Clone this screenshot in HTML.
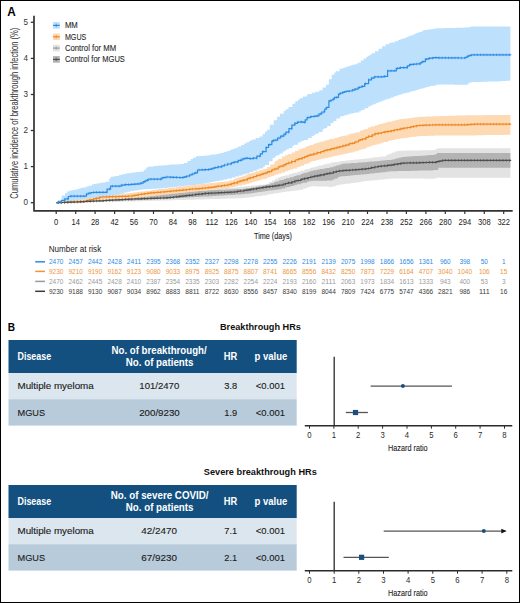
<!DOCTYPE html>
<html><head><meta charset="utf-8"><style>
html,body{margin:0;padding:0;background:#fff;}
svg{display:block;font-family:"Liberation Sans", sans-serif;}
</style></head><body>
<svg width="520" height="603" viewBox="0 0 520 603">
<rect x="0.5" y="0.5" width="519" height="602" fill="#fff" stroke="#000" stroke-width="1"/>
<text x="7.3" y="15.8" font-size="12" fill="#000" text-anchor="start" font-weight="bold" textLength="8.5" lengthAdjust="spacingAndGlyphs" >A</text>
<polygon points="56.2,202.7 58.0,202.7 58.0,199.9 61.7,199.9 61.7,195.4 65.1,195.4 65.1,192.9 67.2,192.9 67.2,191.3 69.9,191.3 69.9,190.6 72.6,190.6 72.6,189.9 75.7,189.9 75.7,189.2 79.2,189.2 79.2,188.3 80.9,188.3 80.9,187.9 82.5,187.9 82.5,187.5 86.1,187.5 86.1,186.6 88.6,186.6 88.6,185.7 92.0,185.7 92.0,184.5 93.6,184.5 93.6,184.1 96.2,184.1 96.2,183.5 99.5,183.5 99.5,182.9 101.5,182.9 101.5,182.5 105.4,182.5 105.4,181.7 109.2,181.7 109.2,178.5 110.7,178.5 110.7,176.8 112.3,176.8 112.3,176.5 115.2,176.5 115.2,175.9 119.0,175.9 119.0,175.1 121.5,175.1 121.5,174.5 123.5,174.5 123.5,174.1 126.0,174.1 126.0,173.5 127.6,173.5 127.6,173.2 129.7,173.2 129.7,172.9 132.3,172.9 132.3,172.6 135.0,172.6 135.0,172.3 137.1,172.3 137.1,172.0 139.2,172.0 139.2,171.8 141.2,171.8 141.2,171.6 143.9,171.6 143.9,169.7 146.1,169.7 146.1,167.8 147.6,167.8 147.6,166.8 151.2,166.8 151.2,166.4 154.1,166.4 154.1,166.1 157.2,166.1 157.2,165.8 159.2,165.8 159.2,165.5 163.2,165.5 163.2,165.2 166.8,165.2 166.8,164.9 168.6,164.9 168.6,164.8 171.0,164.8 171.0,164.6 174.3,164.6 174.3,164.4 177.5,164.4 177.5,164.2 181.4,164.2 181.4,163.9 183.9,163.9 183.9,163.0 187.5,163.0 187.5,160.9 190.7,160.9 190.7,159.1 193.0,159.1 193.0,157.8 195.9,157.8 195.9,156.2 199.6,156.2 199.6,156.0 203.2,156.0 203.2,155.8 206.0,155.8 206.0,155.5 209.0,155.5 209.0,155.1 210.6,155.1 210.6,154.8 212.7,154.8 212.7,154.5 216.2,154.5 216.2,154.0 218.7,154.0 218.7,153.6 220.6,153.6 220.6,153.1 223.5,153.1 223.5,152.1 226.8,152.1 226.8,150.9 230.0,150.9 230.0,149.8 232.4,149.8 232.4,148.9 235.0,148.9 235.0,148.0 237.8,148.0 237.8,146.6 241.2,146.6 241.2,144.9 244.0,144.9 244.0,143.5 246.5,143.5 246.5,142.2 249.2,142.2 249.2,141.0 250.8,141.0 250.8,140.3 252.4,140.3 252.4,139.6 255.7,139.6 255.7,138.1 259.6,138.1 259.6,136.4 262.6,136.4 262.6,134.1 265.1,134.1 265.1,131.6 267.0,131.6 267.0,129.7 269.8,129.7 269.8,124.8 273.7,124.8 273.7,120.3 277.1,120.3 277.1,116.8 280.0,116.8 280.0,113.8 283.6,113.8 283.6,110.9 285.7,110.9 285.7,109.3 288.5,109.3 288.5,107.0 292.4,107.0 292.4,103.8 295.3,103.8 295.3,101.3 298.0,101.3 298.0,99.4 300.2,99.4 300.2,98.1 303.0,98.1 303.0,96.4 306.9,96.4 306.9,94.4 308.4,94.4 308.4,93.9 311.9,93.9 311.9,92.8 315.4,92.8 315.4,91.7 319.2,91.7 319.2,90.3 322.5,90.3 322.5,87.6 326.0,87.6 326.0,84.7 328.8,84.7 328.8,79.3 331.7,79.3 331.7,74.7 334.3,74.7 334.3,72.6 335.9,72.6 335.9,71.3 339.6,71.3 339.6,68.8 342.5,68.8 342.5,67.9 344.5,67.9 344.5,67.2 347.3,67.2 347.3,66.3 350.0,66.3 350.0,65.5 352.4,65.5 352.4,64.8 354.8,64.8 354.8,64.2 357.6,64.2 357.6,62.7 360.7,62.7 360.7,60.6 363.7,60.6 363.7,58.5 366.3,58.5 366.3,56.8 367.9,56.8 367.9,55.8 370.0,55.8 370.0,54.4 371.9,54.4 371.9,53.2 374.9,53.2 374.9,51.2 378.5,51.2 378.5,48.7 382.0,48.7 382.0,46.3 385.5,46.3 385.5,44.3 389.1,44.3 389.1,43.1 391.2,43.1 391.2,42.4 394.8,42.4 394.8,41.2 398.0,41.2 398.0,40.1 399.7,40.1 399.7,39.5 401.3,39.5 401.3,38.9 402.8,38.9 402.8,38.3 406.2,38.3 406.2,37.1 408.3,37.1 408.3,36.3 410.1,36.3 410.1,35.6 413.1,35.6 413.1,34.3 415.5,34.3 415.5,33.3 417.2,33.3 417.2,32.7 419.1,32.7 419.1,31.9 421.9,31.9 421.9,30.7 423.8,30.7 423.8,30.0 426.0,30.0 426.0,29.7 429.3,29.7 429.3,29.2 431.9,29.2 431.9,28.9 434.2,28.9 434.2,28.5 436.9,28.5 436.9,28.3 438.5,28.3 438.5,28.2 440.9,28.2 440.9,28.2 443.5,28.2 443.5,28.1 445.4,28.1 445.4,28.1 447.2,28.1 447.2,28.0 451.0,28.0 451.0,27.9 453.7,27.9 453.7,27.9 455.8,27.9 455.8,27.8 458.8,27.8 458.8,27.8 462.3,27.8 462.3,27.7 463.9,27.7 463.9,27.6 465.4,27.6 465.4,27.6 467.3,27.6 467.3,27.2 470.6,27.2 470.6,26.5 472.5,26.5 472.5,26.5 475.7,26.5 475.7,26.5 478.9,26.5 478.9,26.5 481.8,26.5 481.8,26.5 483.9,26.5 483.9,26.5 487.8,26.5 487.8,26.5 491.3,26.5 491.3,26.5 494.1,26.5 494.1,26.5 496.1,26.5 496.1,26.5 499.3,26.5 499.3,26.5 501.7,26.5 501.7,26.5 504.7,26.5 504.7,26.5 507.0,26.5 507.0,26.5 510.1,26.5 510.1,26.5 510.4,26.5 510.4,26.5 510.4,80.6 510.4,80.6 509.6,80.6 509.6,80.8 506.1,80.8 506.1,81.0 502.2,81.0 502.2,81.2 498.9,81.2 498.9,81.4 495.8,81.4 495.8,81.4 493.7,81.4 493.7,81.5 490.5,81.5 490.5,81.6 488.8,81.6 488.8,81.7 485.2,81.7 485.2,81.8 481.8,81.8 481.8,81.9 479.9,81.9 479.9,82.0 476.9,82.0 476.9,82.0 474.7,82.0 474.7,82.1 472.1,82.1 472.1,82.5 469.5,82.5 469.5,83.5 467.9,83.5 467.9,84.7 464.1,84.7 464.1,84.7 460.1,84.7 460.1,84.7 457.5,84.7 457.5,84.7 454.0,84.7 454.0,84.6 450.2,84.6 450.2,84.6 446.9,84.6 446.9,84.6 444.7,84.6 444.7,84.6 441.5,84.6 441.5,84.6 438.9,84.6 438.9,84.7 435.6,84.7 435.6,85.7 431.6,85.7 431.6,86.1 430.0,86.1 430.0,86.5 428.4,86.5 428.4,87.1 426.1,87.1 426.1,87.8 423.5,87.8 423.5,88.5 420.9,88.5 420.9,89.1 418.8,89.1 418.8,90.1 415.5,90.1 415.5,91.0 412.3,91.0 412.3,91.6 410.0,91.6 410.0,92.4 407.1,92.4 407.1,92.9 405.3,92.9 405.3,93.6 402.4,93.6 402.4,94.5 399.3,94.5 399.3,95.2 396.9,95.2 396.9,96.3 393.7,96.3 393.7,97.5 390.5,97.5 390.5,98.7 387.3,98.7 387.3,99.6 384.7,99.6 384.7,100.6 382.3,100.6 382.3,101.5 379.9,101.5 379.9,102.3 378.1,102.3 378.1,103.0 376.2,103.0 376.2,103.7 374.6,103.7 374.6,104.5 372.5,104.5 372.5,105.2 370.9,105.2 370.9,106.2 368.4,106.2 368.4,108.3 364.6,108.3 364.6,110.1 361.4,110.1 361.4,111.3 359.2,111.3 359.2,112.5 355.4,112.5 355.4,113.0 353.0,113.0 353.0,113.6 350.2,113.6 350.2,114.3 347.3,114.3 347.3,115.3 344.2,115.3 344.2,115.9 342.0,115.9 342.0,116.5 339.9,116.5 339.9,118.6 336.4,118.6 336.4,121.0 333.5,121.0 333.5,123.1 330.8,123.1 330.8,125.9 327.2,125.9 327.2,128.2 324.1,128.2 324.1,129.3 322.6,129.3 322.6,132.0 318.8,132.0 318.8,133.8 315.7,133.8 315.7,134.7 314.0,134.7 314.0,136.0 311.7,136.0 311.7,138.0 307.9,138.0 307.9,139.9 304.0,139.9 304.0,140.7 302.2,140.7 302.2,141.6 300.2,141.6 300.2,142.6 298.0,142.6 298.0,144.7 294.2,144.7 294.2,145.7 292.5,145.7 292.5,147.9 288.9,147.9 288.9,149.2 286.7,149.2 286.7,150.2 285.1,150.2 285.1,151.6 282.7,151.6 282.7,153.6 279.5,153.6 279.5,155.3 276.6,155.3 276.6,156.3 274.9,156.3 274.9,157.9 272.6,157.9 272.6,161.3 268.9,161.3 268.9,165.0 265.0,165.0 265.0,166.7 263.1,166.7 263.1,168.4 259.4,168.4 259.4,169.4 256.8,169.4 256.8,170.8 253.1,170.8 253.1,172.1 249.7,172.1 249.7,173.4 246.2,173.4 246.2,174.1 244.3,174.1 244.3,174.6 242.4,174.6 242.4,175.6 239.0,175.6 239.0,176.5 235.4,176.5 235.4,177.5 232.0,177.5 232.0,178.4 228.7,178.4 228.7,178.8 226.9,178.8 226.9,179.6 223.3,179.6 223.3,180.3 219.7,180.3 219.7,181.1 215.8,181.1 215.8,181.6 213.4,181.6 213.4,181.9 211.8,181.9 211.8,182.3 210.1,182.3 210.1,182.6 208.6,182.6 208.6,183.2 205.4,183.2 205.4,183.7 202.2,183.7 202.2,184.2 198.5,184.2 198.5,184.5 196.2,184.5 196.2,184.9 192.5,184.9 192.5,185.2 189.8,185.2 189.8,185.5 187.1,185.5 187.1,185.8 184.0,185.8 184.0,186.1 181.6,186.1 181.6,186.4 178.3,186.4 178.3,186.8 175.0,186.8 175.0,187.0 173.2,187.0 173.2,187.2 171.5,187.2 171.5,187.4 169.5,187.4 169.5,187.5 168.0,187.5 168.0,187.7 166.1,187.7 166.1,188.0 163.2,188.0 163.2,188.2 161.6,188.2 161.6,188.5 158.4,188.5 158.4,188.6 156.8,188.6 156.8,188.7 154.5,188.7 154.5,188.8 151.6,188.8 151.6,188.9 149.0,188.9 149.0,189.0 147.4,189.0 147.4,189.2 144.3,189.2 144.3,189.4 141.8,189.4 141.8,189.8 139.2,189.8 139.2,190.2 136.8,190.2 136.8,190.6 134.3,190.6 134.3,191.1 130.6,191.1 130.6,191.7 127.4,191.7 127.4,192.6 124.2,192.6 124.2,193.7 120.6,193.7 120.6,194.2 118.9,194.2 118.9,194.9 116.6,194.9 116.6,195.7 114.0,195.7 114.0,196.3 112.0,196.3 112.0,197.0 109.5,197.0 109.5,197.6 106.4,197.6 106.4,197.9 104.1,197.9 104.1,198.2 101.4,198.2 101.4,198.6 99.0,198.6 99.0,199.0 95.6,199.0 95.6,199.2 93.9,199.2 93.9,199.5 91.9,199.5 91.9,199.7 90.2,199.7 90.2,200.2 86.3,200.2 86.3,200.5 84.2,200.5 84.2,200.7 81.0,200.7 81.0,200.9 78.8,200.9 78.8,201.1 76.7,201.1 76.7,201.2 74.7,201.2 74.7,201.5 71.5,201.5 71.5,201.7 68.9,201.7 68.9,202.0 65.1,202.0 65.1,202.3 61.1,202.3 61.1,202.5 59.2,202.5 59.2,202.7 56.2,202.7" fill="#bde0fd"/>
<polygon points="56.2,202.7 60.1,202.7 60.1,202.2 64.0,202.2 64.0,201.8 65.6,201.8 65.6,201.6 67.3,201.6 67.3,201.4 70.9,201.4 70.9,200.9 74.2,200.9 74.2,200.5 77.4,200.5 77.4,200.1 79.7,200.1 79.7,199.9 82.7,199.9 82.7,199.5 85.7,199.5 85.7,199.1 88.7,199.1 88.7,198.8 90.6,198.8 90.6,198.5 93.1,198.5 93.1,198.2 95.6,198.2 95.6,197.9 98.9,197.9 98.9,197.5 102.9,197.5 102.9,197.0 106.8,197.0 106.8,196.6 109.7,196.6 109.7,196.2 112.3,196.2 112.3,195.9 114.4,195.9 114.4,195.6 116.0,195.6 116.0,195.5 117.6,195.5 117.6,195.3 120.3,195.3 120.3,194.9 122.6,194.9 122.6,194.7 125.0,194.7 125.0,194.4 128.7,194.4 128.7,194.0 131.5,194.0 131.5,193.8 134.5,193.8 134.5,193.7 136.5,193.7 136.5,193.6 138.1,193.6 138.1,193.5 140.4,193.5 140.4,193.3 142.3,193.3 142.3,193.2 145.0,193.2 145.0,193.1 149.0,193.1 149.0,192.9 152.2,192.9 152.2,192.7 154.2,192.7 154.2,192.6 157.9,192.6 157.9,192.4 161.4,192.4 161.4,192.2 164.7,192.2 164.7,192.1 168.5,192.1 168.5,191.9 171.9,191.9 171.9,191.7 175.4,191.7 175.4,191.5 177.8,191.5 177.8,191.4 181.7,191.4 181.7,191.2 185.6,191.2 185.6,191.0 187.5,191.0 187.5,190.9 190.9,190.9 190.9,190.7 194.2,190.7 194.2,190.5 196.8,190.5 196.8,190.4 199.7,190.4 199.7,190.2 202.4,190.2 202.4,190.1 206.2,190.1 206.2,189.8 209.0,189.8 209.0,189.5 212.5,189.5 212.5,189.2 214.9,189.2 214.9,189.0 218.6,189.0 218.6,188.7 222.4,188.7 222.4,188.3 225.0,188.3 225.0,188.1 228.0,188.1 228.0,187.8 231.8,187.8 231.8,187.5 235.1,187.5 235.1,187.2 237.8,187.2 237.8,186.9 239.8,186.9 239.8,186.7 242.1,186.7 242.1,186.5 245.4,186.5 245.4,186.2 247.3,186.2 247.3,186.0 251.1,186.0 251.1,185.6 253.3,185.6 253.3,185.4 257.0,185.4 257.0,185.0 259.3,185.0 259.3,184.8 263.2,184.8 263.2,184.4 266.5,184.4 266.5,183.7 269.2,183.7 269.2,182.1 272.0,182.1 272.0,180.5 275.1,180.5 275.1,178.8 278.1,178.8 278.1,177.2 280.4,177.2 280.4,176.6 282.4,176.6 282.4,176.0 285.2,176.0 285.2,175.2 289.0,175.2 289.0,174.1 292.1,174.1 292.1,173.2 293.8,173.2 293.8,172.8 297.3,172.8 297.3,171.7 300.6,171.7 300.6,170.7 304.4,170.7 304.4,169.6 306.4,169.6 306.4,169.0 309.8,169.0 309.8,168.0 311.4,168.0 311.4,167.5 314.5,167.5 314.5,166.7 316.7,166.7 316.7,166.2 318.8,166.2 318.8,165.6 322.5,165.6 322.5,164.7 324.2,164.7 324.2,164.2 327.0,164.2 327.0,163.5 330.7,163.5 330.7,162.6 332.8,162.6 332.8,162.3 334.8,162.3 334.8,162.0 338.5,162.0 338.5,161.4 341.1,161.4 341.1,161.1 344.4,161.1 344.4,160.7 345.9,160.7 345.9,160.6 348.4,160.6 348.4,160.3 350.3,160.3 350.3,160.1 353.5,160.1 353.5,159.8 355.2,159.8 355.2,159.6 359.1,159.6 359.1,159.3 360.6,159.3 360.6,159.1 363.9,159.1 363.9,158.8 365.5,158.8 365.5,158.6 367.6,158.6 367.6,158.3 371.2,158.3 371.2,157.8 373.1,157.8 373.1,157.6 375.0,157.6 375.0,157.3 378.3,157.3 378.3,156.9 380.7,156.9 380.7,156.6 382.3,156.6 382.3,156.4 386.3,156.4 386.3,155.1 388.2,155.1 388.2,154.2 389.8,154.2 389.8,153.5 392.1,153.5 392.1,152.5 395.2,152.5 395.2,151.2 398.5,151.2 398.5,150.8 400.3,150.8 400.3,150.7 402.6,150.7 402.6,150.7 404.2,150.7 404.2,150.6 406.8,150.6 406.8,150.6 410.3,150.6 410.3,150.5 413.6,150.5 413.6,150.5 417.4,150.5 417.4,150.4 420.8,150.4 420.8,150.3 424.4,150.3 424.4,150.3 427.7,150.3 427.7,150.2 430.4,150.2 430.4,150.2 432.4,150.2 432.4,150.1 435.6,150.1 435.6,148.7 437.9,148.7 437.9,148.3 439.6,148.3 439.6,148.3 442.2,148.3 442.2,148.3 445.9,148.3 445.9,148.3 447.7,148.3 447.7,148.3 450.7,148.3 450.7,148.3 453.2,148.3 453.2,148.3 456.0,148.3 456.0,148.3 457.8,148.3 457.8,148.3 461.7,148.3 461.7,148.3 463.9,148.3 463.9,148.3 466.9,148.3 466.9,148.3 469.4,148.3 469.4,148.3 471.0,148.3 471.0,148.3 473.9,148.3 473.9,148.3 475.7,148.3 475.7,148.3 477.4,148.3 477.4,148.3 479.0,148.3 479.0,148.3 480.9,148.3 480.9,148.3 482.6,148.3 482.6,148.3 485.7,148.3 485.7,148.3 488.5,148.3 488.5,148.3 492.4,148.3 492.4,148.3 496.3,148.3 496.3,148.3 500.2,148.3 500.2,148.3 502.3,148.3 502.3,148.3 504.9,148.3 504.9,148.3 507.1,148.3 507.1,148.3 510.0,148.3 510.0,148.3 510.4,148.3 510.4,148.3 510.4,177.8 510.4,177.8 508.7,177.8 508.7,177.8 504.8,177.8 504.8,177.8 501.5,177.8 501.5,177.8 497.8,177.8 497.8,177.8 494.1,177.8 494.1,177.8 491.9,177.8 491.9,177.8 489.2,177.8 489.2,177.8 486.2,177.8 486.2,177.8 483.3,177.8 483.3,177.8 480.5,177.8 480.5,177.8 479.0,177.8 479.0,177.8 475.1,177.8 475.1,177.8 471.7,177.8 471.7,177.8 468.3,177.8 468.3,177.8 466.6,177.8 466.6,177.8 462.7,177.8 462.7,177.8 460.0,177.8 460.0,177.8 456.2,177.8 456.2,177.8 453.3,177.8 453.3,177.8 451.1,177.8 451.1,177.8 448.2,177.8 448.2,177.8 446.6,177.8 446.6,177.8 444.8,177.8 444.8,177.8 442.7,177.8 442.7,177.8 440.0,177.8 440.0,177.8 436.3,177.8 436.3,178.5 434.4,178.5 434.4,178.7 432.1,178.7 432.1,178.7 428.2,178.7 428.2,178.7 424.5,178.7 424.5,178.6 421.8,178.6 421.8,178.6 418.8,178.6 418.8,178.6 416.1,178.6 416.1,178.6 414.3,178.6 414.3,178.6 410.4,178.6 410.4,178.6 408.4,178.6 408.4,178.6 406.8,178.6 406.8,178.6 403.1,178.6 403.1,178.5 399.8,178.5 399.8,178.5 396.4,178.5 396.4,178.5 394.2,178.5 394.2,178.5 390.6,178.5 390.6,178.7 387.9,178.7 387.9,179.0 384.8,179.0 384.8,179.4 380.9,179.4 380.9,179.8 377.6,179.8 377.6,180.2 373.8,180.2 373.8,180.5 370.6,180.5 370.6,180.8 367.5,180.8 367.5,181.0 365.4,181.0 365.4,181.3 363.2,181.3 363.2,181.5 361.7,181.5 361.7,181.9 359.0,181.9 359.0,182.4 355.2,182.4 355.2,182.9 351.3,182.9 351.3,183.4 347.7,183.4 347.7,183.8 345.2,183.8 345.2,184.2 341.8,184.2 341.8,184.5 339.8,184.5 339.8,184.9 338.1,184.9 338.1,185.4 336.0,185.4 336.0,186.2 332.9,186.2 332.9,186.9 329.3,186.9 329.3,186.8 326.7,186.8 326.7,186.6 323.1,186.6 323.1,186.5 319.6,186.5 319.6,186.4 316.9,186.4 316.9,186.3 314.9,186.3 314.9,186.2 311.6,186.2 311.6,186.7 309.3,186.7 309.3,187.3 307.3,187.3 307.3,187.9 305.2,187.9 305.2,188.7 302.7,188.7 302.7,189.7 299.4,189.7 299.4,190.2 297.1,190.2 297.1,190.5 294.5,190.5 294.5,190.8 292.7,190.8 292.7,191.0 290.9,191.0 290.9,191.3 289.0,191.3 289.0,191.6 286.5,191.6 286.5,191.8 284.8,191.8 284.8,192.1 282.7,192.1 282.7,192.5 280.0,192.5 280.0,192.8 278.2,192.8 278.2,193.3 275.6,193.3 275.6,193.6 273.6,193.6 273.6,194.1 270.4,194.1 270.4,194.6 267.8,194.6 267.8,195.0 265.8,195.0 265.8,195.5 261.9,195.5 261.9,195.9 258.7,195.9 258.7,196.2 256.6,196.2 256.6,196.5 254.1,196.5 254.1,197.0 250.4,197.0 250.4,197.5 246.8,197.5 246.8,197.8 245.1,197.8 245.1,198.0 243.2,198.0 243.2,198.2 239.3,198.2 239.3,198.3 235.5,198.3 235.5,198.4 233.0,198.4 233.0,198.5 230.1,198.5 230.1,198.6 226.2,198.6 226.2,198.7 223.4,198.7 223.4,198.8 220.3,198.8 220.3,198.9 216.5,198.9 216.5,199.0 213.5,199.0 213.5,199.1 210.2,199.1 210.2,199.2 207.7,199.2 207.7,199.3 204.5,199.3 204.5,199.4 200.8,199.4 200.8,199.5 197.7,199.5 197.7,199.6 195.1,199.6 195.1,199.7 191.3,199.7 191.3,199.8 188.6,199.8 188.6,199.8 185.5,199.8 185.5,199.9 181.9,199.9 181.9,200.1 178.2,200.1 178.2,200.1 175.0,200.1 175.0,200.2 172.4,200.2 172.4,200.3 169.5,200.3 169.5,200.4 167.0,200.4 167.0,200.5 163.9,200.5 163.9,200.6 160.9,200.6 160.9,200.6 158.9,200.6 158.9,200.7 157.0,200.7 157.0,200.8 153.2,200.8 153.2,200.8 150.7,200.8 150.7,200.9 148.1,200.9 148.1,201.0 144.8,201.0 144.8,201.1 142.0,201.1 142.0,201.2 138.8,201.2 138.8,201.3 136.4,201.3 136.4,201.3 134.7,201.3 134.7,201.4 132.6,201.4 132.6,201.5 129.4,201.5 129.4,201.5 126.3,201.5 126.3,201.6 123.3,201.6 123.3,201.6 121.4,201.6 121.4,201.7 118.6,201.7 118.6,201.7 116.5,201.7 116.5,201.7 113.8,201.7 113.8,201.8 111.2,201.8 111.2,201.8 108.2,201.8 108.2,201.9 104.9,201.9 104.9,201.9 101.4,201.9 101.4,202.0 99.6,202.0 99.6,202.0 97.5,202.0 97.5,202.1 95.1,202.1 95.1,202.1 91.7,202.1 91.7,202.2 88.0,202.2 88.0,202.2 85.2,202.2 85.2,202.3 82.2,202.3 82.2,202.3 79.4,202.3 79.4,202.3 77.8,202.3 77.8,202.4 74.8,202.4 74.8,202.4 71.8,202.4 71.8,202.5 69.3,202.5 69.3,202.5 66.3,202.5 66.3,202.6 63.0,202.6 63.0,202.6 61.1,202.6 61.1,202.7 58.1,202.7 58.1,202.7 56.2,202.7" fill="#e3e3e3"/>
<polygon points="56.2,202.7 58.3,202.7 58.3,202.5 61.2,202.5 61.2,202.3 63.6,202.3 63.6,202.1 66.6,202.1 66.6,201.9 69.7,201.9 69.7,201.6 71.3,201.6 71.3,201.5 72.9,201.5 72.9,201.4 76.4,201.4 76.4,201.1 78.6,201.1 78.6,200.9 80.7,200.9 80.7,200.8 84.7,200.8 84.7,200.4 87.3,200.4 87.3,200.2 90.9,200.2 90.9,199.9 93.6,199.9 93.6,199.7 96.7,199.7 96.7,199.5 98.6,199.5 98.6,199.3 101.7,199.3 101.7,199.1 105.4,199.1 105.4,198.8 108.2,198.8 108.2,198.6 111.5,198.6 111.5,198.3 114.7,198.3 114.7,198.1 116.4,198.1 116.4,197.9 119.8,197.9 119.8,197.7 122.7,197.7 122.7,197.4 125.0,197.4 125.0,197.2 126.6,197.2 126.6,197.1 130.2,197.1 130.2,196.8 132.9,196.8 132.9,196.6 136.2,196.6 136.2,196.3 139.9,196.3 139.9,196.0 143.2,196.0 143.2,195.7 147.0,195.7 147.0,195.4 149.5,195.4 149.5,195.1 153.0,195.1 153.0,194.8 155.6,194.8 155.6,194.6 159.4,194.6 159.4,194.3 163.1,194.3 163.1,193.9 164.9,193.9 164.9,193.8 166.7,193.8 166.7,193.6 168.8,193.6 168.8,193.5 172.7,193.5 172.7,193.1 175.3,193.1 175.3,192.9 178.3,192.9 178.3,192.6 180.6,192.6 180.6,192.4 183.3,192.4 183.3,192.2 185.8,192.2 185.8,192.0 188.2,192.0 188.2,191.8 191.1,191.8 191.1,191.5 194.1,191.5 194.1,191.3 197.9,191.3 197.9,190.9 201.1,190.9 201.1,190.7 204.9,190.7 204.9,190.4 208.5,190.4 208.5,190.2 212.5,190.2 212.5,190.0 215.7,190.0 215.7,189.9 217.6,189.9 217.6,189.8 221.3,189.8 221.3,189.7 225.2,189.7 225.2,189.5 228.9,189.5 228.9,189.4 231.8,189.4 231.8,189.2 235.1,189.2 235.1,189.1 237.2,189.1 237.2,189.0 240.7,189.0 240.7,188.9 243.7,188.9 243.7,188.6 245.9,188.6 245.9,188.2 247.5,188.2 247.5,188.0 251.2,188.0 251.2,187.4 255.2,187.4 255.2,186.7 256.9,186.7 256.9,186.4 260.4,186.4 260.4,185.8 262.9,185.8 262.9,185.4 264.8,185.4 264.8,185.1 267.0,185.1 267.0,184.5 270.4,184.5 270.4,183.3 274.1,183.3 274.1,182.0 275.7,182.0 275.7,181.5 278.8,181.5 278.8,180.4 280.4,180.4 280.4,179.9 283.7,179.9 283.7,178.9 286.0,178.9 286.0,178.2 289.7,178.2 289.7,177.2 293.7,177.2 293.7,176.0 296.4,176.0 296.4,175.2 300.4,175.2 300.4,174.0 302.7,174.0 302.7,173.3 304.4,173.3 304.4,172.8 307.4,172.8 307.4,171.9 309.0,171.9 309.0,171.4 311.0,171.4 311.0,170.8 313.5,170.8 313.5,170.3 316.5,170.3 316.5,169.8 318.4,169.8 318.4,169.4 320.0,169.4 320.0,169.1 323.7,169.1 323.7,168.5 325.9,168.5 325.9,168.0 329.8,168.0 329.8,167.3 333.6,167.3 333.6,166.2 336.0,166.2 336.0,165.5 338.7,165.5 338.7,164.7 341.5,164.7 341.5,163.8 344.6,163.8 344.6,163.6 347.6,163.6 347.6,163.4 350.5,163.4 350.5,163.1 353.5,163.1 353.5,162.9 357.4,162.9 357.4,162.6 360.2,162.6 360.2,162.4 362.7,162.4 362.7,162.2 366.0,162.2 366.0,162.0 368.1,162.0 368.1,161.8 370.4,161.8 370.4,161.6 374.3,161.6 374.3,161.2 377.1,161.2 377.1,161.0 380.0,161.0 380.0,160.7 381.5,160.7 381.5,160.6 384.1,160.6 384.1,160.3 387.0,160.3 387.0,160.1 388.6,160.1 388.6,159.9 391.6,159.9 391.6,159.4 394.7,159.4 394.7,158.7 396.3,158.7 396.3,158.3 399.4,158.3 399.4,157.6 402.1,157.6 402.1,156.9 405.3,156.9 405.3,156.7 407.6,156.7 407.6,156.5 410.9,156.5 410.9,156.3 414.3,156.3 414.3,156.1 415.8,156.1 415.8,156.0 417.5,156.0 417.5,155.9 420.7,155.9 420.7,155.7 424.6,155.7 424.6,155.4 426.7,155.4 426.7,155.3 429.3,155.3 429.3,155.1 432.3,155.1 432.3,154.9 434.6,154.9 434.6,154.2 437.0,154.2 437.0,152.9 439.3,152.9 439.3,152.9 441.7,152.9 441.7,152.9 444.7,152.9 444.7,152.9 447.0,152.9 447.0,152.9 449.4,152.9 449.4,152.9 452.8,152.9 452.8,152.9 454.4,152.9 454.4,152.9 457.3,152.9 457.3,152.9 460.7,152.9 460.7,152.9 462.9,152.9 462.9,152.9 465.0,152.9 465.0,152.9 468.5,152.9 468.5,152.9 470.6,152.9 470.6,152.9 472.6,152.9 472.6,152.9 475.2,152.9 475.2,152.9 478.4,152.9 478.4,152.9 480.2,152.9 480.2,152.9 482.5,152.9 482.5,152.9 484.8,152.9 484.8,152.9 488.4,152.9 488.4,152.9 491.0,152.9 491.0,152.9 494.6,152.9 494.6,152.9 496.5,152.9 496.5,152.9 498.9,152.9 498.9,152.9 502.0,152.9 502.0,152.9 505.7,152.9 505.7,152.9 508.4,152.9 508.4,152.9 510.4,152.9 510.4,152.9 510.4,167.7 510.4,167.7 509.8,167.7 509.8,167.7 505.9,167.7 505.9,167.7 502.6,167.7 502.6,167.7 499.8,167.7 499.8,167.7 496.6,167.7 496.6,167.7 493.5,167.7 493.5,167.7 491.5,167.7 491.5,167.7 488.8,167.7 488.8,167.7 485.9,167.7 485.9,167.7 482.5,167.7 482.5,167.7 479.0,167.7 479.0,167.7 475.6,167.7 475.6,167.7 473.0,167.7 473.0,167.7 470.9,167.7 470.9,167.7 468.7,167.7 468.7,167.7 465.2,167.7 465.2,167.7 461.8,167.7 461.8,167.7 458.4,167.7 458.4,167.7 454.7,167.7 454.7,167.7 451.9,167.7 451.9,167.7 448.1,167.7 448.1,167.7 446.4,167.7 446.4,167.7 444.6,167.7 444.6,167.7 441.8,167.7 441.8,167.7 438.3,167.7 438.3,169.9 434.3,169.9 434.3,170.3 432.8,170.3 432.8,170.4 430.6,170.4 430.6,170.5 427.0,170.5 427.0,170.5 423.8,170.5 423.8,170.6 421.1,170.6 421.1,170.6 419.0,170.6 419.0,170.7 416.7,170.7 416.7,170.7 415.2,170.7 415.2,170.8 412.4,170.8 412.4,170.8 410.9,170.8 410.9,170.9 407.1,170.9 407.1,171.0 403.4,171.0 403.4,171.1 400.5,171.1 400.5,171.1 397.3,171.1 397.3,171.2 393.6,171.2 393.6,171.3 390.2,171.3 390.2,171.5 388.3,171.5 388.3,171.8 385.8,171.8 385.8,172.2 382.3,172.2 382.3,172.4 380.0,172.4 380.0,172.8 377.0,172.8 377.0,173.1 374.5,173.1 374.5,173.4 371.7,173.4 371.7,173.6 369.5,173.6 369.5,173.9 367.2,173.9 367.2,174.3 363.9,174.3 363.9,174.6 360.6,174.6 360.6,174.8 358.4,174.8 358.4,175.1 354.7,175.1 354.7,175.3 352.5,175.3 352.5,175.5 349.9,175.5 349.9,175.7 348.0,175.7 348.0,176.0 344.9,176.0 344.9,176.3 341.2,176.3 341.2,176.5 339.6,176.5 339.6,177.0 338.0,177.0 338.0,178.4 334.9,178.4 334.9,179.5 332.6,179.5 332.6,180.5 330.2,180.5 330.2,180.6 327.0,180.6 327.0,180.7 323.1,180.7 323.1,180.7 319.5,180.7 319.5,180.7 316.4,180.7 316.4,180.8 314.8,180.8 314.8,180.8 311.3,180.8 311.3,181.3 308.9,181.3 308.9,181.7 306.9,181.7 306.9,182.7 303.1,182.7 303.1,183.2 300.9,183.2 300.9,184.2 296.9,184.2 296.9,185.0 294.1,185.0 294.1,186.1 290.4,186.1 290.4,187.0 287.2,187.0 287.2,187.6 284.9,187.6 284.9,188.5 281.7,188.5 281.7,189.2 278.8,189.2 278.8,189.5 276.5,189.5 276.5,189.9 273.8,189.9 273.8,190.2 271.4,190.2 271.4,190.6 268.3,190.6 268.3,191.0 265.3,191.0 265.3,191.4 262.8,191.4 262.8,191.7 260.8,191.7 260.8,192.1 257.7,192.1 257.7,192.5 254.8,192.5 254.8,192.9 251.9,192.9 251.9,193.4 248.3,193.4 248.3,193.8 245.1,193.8 245.1,194.1 243.5,194.1 243.5,194.3 240.9,194.3 240.9,194.4 239.3,194.4 239.3,194.6 235.9,194.6 235.9,194.8 233.3,194.8 233.3,195.0 229.7,195.0 229.7,195.1 227.2,195.1 227.2,195.3 224.2,195.3 224.2,195.5 221.4,195.5 221.4,195.6 219.1,195.6 219.1,195.8 215.9,195.8 215.9,196.0 212.4,196.0 212.4,196.2 209.5,196.2 209.5,196.4 205.6,196.4 205.6,196.6 201.6,196.6 201.6,196.8 198.9,196.8 198.9,196.9 197.1,196.9 197.1,197.0 193.9,197.0 193.9,197.2 190.4,197.2 190.4,197.3 188.6,197.3 188.6,197.5 184.8,197.5 184.8,197.6 183.1,197.6 183.1,197.7 180.9,197.7 180.9,197.8 178.4,197.8 178.4,197.9 176.5,197.9 176.5,198.1 173.8,198.1 173.8,198.2 171.6,198.2 171.6,198.4 168.3,198.4 168.3,198.5 165.5,198.5 165.5,198.7 161.7,198.7 161.7,198.9 158.0,198.9 158.0,199.1 154.1,199.1 154.1,199.2 152.0,199.2 152.0,199.4 149.8,199.4 149.8,199.5 147.7,199.5 147.7,199.6 145.0,199.6 145.0,199.8 142.0,199.8 142.0,200.0 138.1,200.0 138.1,200.1 135.1,200.1 135.1,200.3 132.7,200.3 132.7,200.4 130.6,200.4 130.6,200.5 127.0,200.5 127.0,200.6 124.1,200.6 124.1,200.7 120.6,200.7 120.6,200.8 118.1,200.8 118.1,200.9 114.8,200.9 114.8,201.0 111.5,201.0 111.5,201.1 108.9,201.1 108.9,201.1 107.0,201.1 107.0,201.2 104.2,201.2 104.2,201.3 102.3,201.3 102.3,201.3 100.6,201.3 100.6,201.4 98.5,201.4 98.5,201.5 97.0,201.5 97.0,201.6 93.4,201.6 93.4,201.6 91.3,201.6 91.3,201.7 89.6,201.7 89.6,201.7 87.8,201.7 87.8,201.8 84.1,201.8 84.1,202.0 80.4,202.0 80.4,202.0 78.0,202.0 78.0,202.1 76.2,202.1 76.2,202.2 73.2,202.2 73.2,202.2 71.5,202.2 71.5,202.3 69.4,202.3 69.4,202.4 66.1,202.4 66.1,202.5 62.8,202.5 62.8,202.6 60.1,202.6 60.1,202.7 56.2,202.7" fill="#b3b3b3"/>
<polygon points="56.2,202.7 58.3,202.7 58.3,202.4 60.0,202.4 60.0,202.2 62.5,202.2 62.5,201.9 64.4,201.9 64.4,201.6 66.1,201.6 66.1,201.4 68.6,201.4 68.6,201.0 72.4,201.0 72.4,200.5 75.9,200.5 75.9,200.1 79.3,200.1 79.3,199.6 81.4,199.6 81.4,199.3 84.2,199.3 84.2,199.0 86.4,199.0 86.4,198.7 88.3,198.7 88.3,198.4 90.1,198.4 90.1,198.2 92.1,198.2 92.1,197.9 95.9,197.9 95.9,197.4 99.5,197.4 99.5,196.9 103.0,196.9 103.0,196.4 106.5,196.4 106.5,196.0 108.5,196.0 108.5,195.7 110.8,195.7 110.8,195.4 113.9,195.4 113.9,195.0 117.2,195.0 117.2,194.5 120.8,194.5 120.8,194.1 124.5,194.1 124.5,193.6 126.2,193.6 126.2,193.3 129.3,193.3 129.3,192.9 132.4,192.9 132.4,192.5 135.2,192.5 135.2,192.2 137.1,192.2 137.1,191.9 139.8,191.9 139.8,191.6 141.6,191.6 141.6,191.4 145.4,191.4 145.4,190.9 149.1,190.9 149.1,190.4 151.9,190.4 151.9,190.1 154.2,190.1 154.2,189.8 157.9,189.8 157.9,189.3 160.9,189.3 160.9,188.9 164.6,188.9 164.6,188.5 168.2,188.5 168.2,188.0 171.0,188.0 171.0,187.7 173.5,187.7 173.5,187.4 176.5,187.4 176.5,187.0 179.1,187.0 179.1,186.7 181.0,186.7 181.0,186.4 183.3,186.4 183.3,186.2 186.8,186.2 186.8,185.7 188.4,185.7 188.4,185.5 190.0,185.5 190.0,185.3 193.1,185.3 193.1,184.9 195.3,184.9 195.3,184.7 198.1,184.7 198.1,184.3 200.8,184.3 200.8,184.0 203.1,184.0 203.1,183.8 207.1,183.8 207.1,183.4 209.1,183.4 209.1,183.1 211.7,183.1 211.7,182.9 213.7,182.9 213.7,182.7 216.7,182.7 216.7,182.3 218.9,182.3 218.9,182.1 221.3,182.1 221.3,181.8 224.7,181.8 224.7,181.5 227.0,181.5 227.0,181.2 229.9,181.2 229.9,180.2 233.7,180.2 233.7,178.9 235.4,178.9 235.4,178.3 237.1,178.3 237.1,177.7 239.1,177.7 239.1,177.0 242.5,177.0 242.5,175.8 245.6,175.8 245.6,174.7 247.7,174.7 247.7,174.0 250.0,174.0 250.0,173.2 251.9,173.2 251.9,172.6 254.6,172.6 254.6,171.7 256.2,171.7 256.2,171.2 259.4,171.2 259.4,170.1 263.2,170.1 263.2,168.9 267.1,168.9 267.1,167.0 270.4,167.0 270.4,164.5 274.3,164.5 274.3,161.7 275.9,161.7 275.9,160.5 278.1,160.5 278.1,158.9 282.0,158.9 282.0,156.6 285.4,156.6 285.4,155.1 288.0,155.1 288.0,154.0 291.8,154.0 291.8,152.4 294.9,152.4 294.9,151.0 298.4,151.0 298.4,149.6 300.6,149.6 300.6,148.7 302.6,148.7 302.6,147.9 305.2,147.9 305.2,146.8 307.1,146.8 307.1,146.1 309.5,146.1 309.5,145.1 313.4,145.1 313.4,143.8 315.8,143.8 315.8,143.1 317.3,143.1 317.3,142.7 318.9,142.7 318.9,142.2 320.8,142.2 320.8,141.6 324.3,141.6 324.3,140.6 326.7,140.6 326.7,139.9 328.9,139.9 328.9,139.3 330.7,139.3 330.7,138.9 334.6,138.9 334.6,137.9 337.2,137.9 337.2,137.3 339.2,137.3 339.2,136.8 340.8,136.8 340.8,136.3 342.5,136.3 342.5,135.9 344.4,135.9 344.4,135.5 347.6,135.5 347.6,134.6 349.5,134.6 349.5,134.1 351.1,134.1 351.1,133.6 353.8,133.6 353.8,132.9 355.9,132.9 355.9,132.3 359.9,132.3 359.9,130.8 361.7,130.8 361.7,130.0 364.5,130.0 364.5,128.9 368.0,128.9 368.0,127.6 370.5,127.6 370.5,126.6 374.5,126.6 374.5,125.4 377.2,125.4 377.2,124.7 379.3,124.7 379.3,124.1 381.8,124.1 381.8,123.4 383.4,123.4 383.4,123.0 385.9,123.0 385.9,122.3 388.1,122.3 388.1,121.7 391.8,121.7 391.8,120.7 395.4,120.7 395.4,119.9 398.1,119.9 398.1,119.5 399.7,119.5 399.7,119.3 401.8,119.3 401.8,119.0 403.9,119.0 403.9,118.7 405.9,118.7 405.9,118.5 408.0,118.5 408.0,118.2 411.7,118.2 411.7,117.7 413.6,117.7 413.6,117.4 415.2,117.4 415.2,117.2 419.0,117.2 419.0,116.8 421.9,116.8 421.9,116.7 425.9,116.7 425.9,116.6 428.4,116.6 428.4,116.5 432.2,116.5 432.2,116.3 435.3,116.3 435.3,116.2 438.8,116.2 438.8,116.1 442.1,116.1 442.1,116.0 444.9,116.0 444.9,115.9 446.6,115.9 446.6,115.9 448.6,115.9 448.6,115.8 452.3,115.8 452.3,115.7 456.1,115.7 456.1,115.6 459.9,115.6 459.9,115.4 462.2,115.4 462.2,115.4 465.3,115.4 465.3,115.3 468.8,115.3 468.8,115.3 472.0,115.3 472.0,115.2 475.5,115.2 475.5,115.2 478.3,115.2 478.3,115.2 481.4,115.2 481.4,115.2 484.7,115.2 484.7,115.1 486.8,115.1 486.8,115.1 490.6,115.1 490.6,115.1 494.5,115.1 494.5,115.0 496.2,115.0 496.2,115.0 500.1,115.0 500.1,115.0 504.1,115.0 504.1,115.0 507.2,115.0 507.2,114.9 508.8,114.9 508.8,114.9 510.4,114.9 510.4,114.9 510.4,134.7 510.4,134.7 508.6,134.7 508.6,134.8 506.6,134.8 506.6,134.8 504.5,134.8 504.5,134.9 500.8,134.9 500.8,134.9 498.5,134.9 498.5,135.0 494.7,135.0 494.7,135.0 492.8,135.0 492.8,135.1 489.9,135.1 489.9,135.1 488.0,135.1 488.0,135.1 485.1,135.1 485.1,135.2 483.0,135.2 483.0,135.2 479.9,135.2 479.9,135.3 476.0,135.3 476.0,135.4 472.8,135.4 472.8,135.4 468.9,135.4 468.9,135.5 466.3,135.5 466.3,135.5 463.7,135.5 463.7,135.5 461.5,135.5 461.5,135.5 459.2,135.5 459.2,135.5 457.4,135.5 457.4,135.5 455.7,135.5 455.7,135.5 452.2,135.5 452.2,135.5 448.7,135.5 448.7,135.5 446.2,135.5 446.2,135.5 443.5,135.5 443.5,135.5 440.0,135.5 440.0,135.5 438.2,135.5 438.2,135.5 435.6,135.5 435.6,135.6 434.1,135.6 434.1,135.7 430.9,135.7 430.9,135.8 427.7,135.8 427.7,135.9 425.4,135.9 425.4,136.0 421.9,136.0 421.9,136.1 420.0,136.1 420.0,136.2 418.1,136.2 418.1,136.3 416.5,136.3 416.5,136.8 412.8,136.8 412.8,137.1 410.4,137.1 410.4,137.3 408.8,137.3 408.8,137.7 406.3,137.7 406.3,138.0 403.4,138.0 403.4,138.2 401.8,138.2 401.8,138.6 399.2,138.6 399.2,139.1 395.4,139.1 395.4,139.9 392.0,139.9 392.0,140.5 389.6,140.5 389.6,141.0 387.7,141.0 387.7,142.0 384.0,142.0 384.0,142.6 381.8,142.6 381.8,143.4 378.8,143.4 378.8,144.4 375.3,144.4 375.3,145.1 372.9,145.1 372.9,145.8 370.8,145.8 370.8,146.7 368.3,146.7 368.3,147.6 365.6,147.6 365.6,148.9 361.7,148.9 361.7,149.8 358.9,149.8 358.9,150.7 356.4,150.7 356.4,151.5 353.5,151.5 353.5,152.4 349.8,152.4 349.8,152.9 348.1,152.9 348.1,153.6 345.4,153.6 345.4,154.1 343.4,154.1 343.4,154.5 341.3,154.5 341.3,155.1 338.5,155.1 338.5,155.5 336.4,155.5 336.4,156.1 333.6,156.1 333.6,156.5 332.0,156.5 332.0,156.9 330.0,156.9 330.0,157.3 328.3,157.3 328.3,158.1 324.8,158.1 324.8,158.6 322.6,158.6 322.6,159.1 320.6,159.1 320.6,159.6 318.5,159.6 318.5,160.0 316.8,160.0 316.8,160.5 314.9,160.5 314.9,161.1 312.6,161.1 312.6,161.6 310.7,161.6 310.7,162.4 308.6,162.4 308.6,163.7 305.4,163.7 305.4,164.3 303.9,164.3 303.9,165.7 300.3,165.7 300.3,167.0 297.2,167.0 297.2,168.4 293.3,168.4 293.3,169.5 290.4,169.5 290.4,170.3 288.1,170.3 288.1,171.3 285.1,171.3 285.1,172.6 281.5,172.6 281.5,173.6 278.6,173.6 278.6,174.6 275.6,174.6 275.6,175.2 273.9,175.2 273.9,176.1 271.2,176.1 271.2,177.1 268.5,177.1 268.5,177.7 266.5,177.7 266.5,178.9 262.7,178.9 262.7,179.4 261.2,179.4 261.2,180.2 258.2,180.2 258.2,181.2 254.9,181.2 254.9,182.0 252.1,182.0 252.1,182.9 249.3,182.9 249.3,183.8 245.7,183.8 245.7,184.7 242.0,184.7 242.0,185.5 238.3,185.5 238.3,186.3 235.1,186.3 235.1,187.1 231.5,187.1 231.5,187.6 229.2,187.6 229.2,188.2 225.9,188.2 225.9,188.5 223.1,188.5 223.1,188.8 220.2,188.8 220.2,189.1 217.1,189.1 217.1,189.4 213.8,189.4 213.8,189.7 210.8,189.7 210.8,189.9 209.1,189.9 209.1,190.1 207.0,190.1 207.0,190.5 203.4,190.5 203.4,190.6 201.9,190.6 201.9,190.8 200.0,190.8 200.0,191.0 198.3,191.0 198.3,191.3 195.3,191.3 195.3,191.5 193.4,191.5 193.4,191.7 191.5,191.7 191.5,192.0 189.1,192.0 189.1,192.2 187.5,192.2 187.5,192.5 184.7,192.5 184.7,192.7 182.7,192.7 182.7,193.1 178.7,193.1 178.7,193.5 174.9,193.5 174.9,193.8 171.8,193.8 171.8,194.1 169.0,194.1 169.0,194.5 165.5,194.5 165.5,194.8 162.3,194.8 162.3,195.0 160.7,195.0 160.7,195.4 157.1,195.4 157.1,195.6 155.1,195.6 155.1,196.0 151.1,196.0 151.1,196.3 148.7,196.3 148.7,196.7 144.9,196.7 144.9,197.0 142.4,197.0 142.4,197.2 140.3,197.2 140.3,197.6 136.7,197.6 136.7,197.9 133.2,197.9 133.2,198.3 130.2,198.3 130.2,198.5 128.4,198.5 128.4,198.6 125.5,198.6 125.5,198.8 123.6,198.8 123.6,198.9 121.4,198.9 121.4,199.1 118.6,199.1 118.6,199.2 115.9,199.2 115.9,199.4 113.4,199.4 113.4,199.5 110.3,199.5 110.3,199.7 107.3,199.7 107.3,199.8 105.0,199.8 105.0,200.0 102.5,200.0 102.5,200.2 99.5,200.2 99.5,200.4 95.9,200.4 95.9,200.6 92.8,200.6 92.8,200.7 90.4,200.7 90.4,200.9 87.3,200.9 87.3,201.0 85.5,201.0 85.5,201.2 81.8,201.2 81.8,201.3 79.8,201.3 79.8,201.4 78.3,201.4 78.3,201.6 74.8,201.6 74.8,201.8 71.5,201.8 71.5,201.9 69.2,201.9 69.2,202.1 67.1,202.1 67.1,202.3 63.8,202.3 63.8,202.5 60.1,202.5 60.1,202.7 56.2,202.7" fill="#fdd9b4"/>
<polyline points="56.2,202.7 58.9,202.7 58.9,202.6 62.0,202.6 62.0,202.4 65.2,202.4 65.2,202.3 67.1,202.3 67.1,202.2 68.6,202.2 68.6,202.1 71.0,202.1 71.0,202.0 73.2,202.0 73.2,201.9 76.7,201.9 76.7,201.8 80.0,201.8 80.0,201.6 83.0,201.6 83.0,201.5 85.9,201.5 85.9,200.7 89.0,200.7 89.0,199.9 90.9,199.9 90.9,199.5 93.5,199.5 93.5,198.8 95.4,198.8 95.4,198.4 99.1,198.4 99.1,197.4 100.8,197.4 100.8,197.0 104.3,197.0 104.3,196.8 106.0,196.8 106.0,196.8 109.2,196.8 109.2,196.7 111.6,196.7 111.6,196.6 114.1,196.6 114.1,196.6 117.7,196.6 117.7,196.5 119.2,196.5 119.2,196.4 120.9,196.4 120.9,196.4 124.7,196.4 124.7,196.3 127.5,196.3 127.5,196.2 129.2,196.2 129.2,196.0 133.2,196.0 133.2,195.4 137.0,195.4 137.0,194.8 138.8,194.8 138.8,194.5 141.4,194.5 141.4,194.1 143.2,194.1 143.2,193.8 145.5,193.8 145.5,193.5 148.5,193.5 148.5,193.1 150.4,193.1 150.4,192.9 153.7,192.9 153.7,192.6 155.3,192.6 155.3,192.5 157.2,192.5 157.2,192.3 160.8,192.3 160.8,192.0 163.3,192.0 163.3,191.8 165.8,191.8 165.8,191.5 168.8,191.5 168.8,191.3 171.5,191.3 171.5,191.0 174.0,191.0 174.0,190.8 175.5,190.8 175.5,190.7 178.9,190.7 178.9,190.3 182.8,190.3 182.8,189.9 186.7,189.9 186.7,189.5 189.9,189.5 189.9,189.2 192.3,189.2 192.3,189.0 194.7,189.0 194.7,188.8 197.9,188.8 197.9,188.6 201.1,188.6 201.1,188.3 202.9,188.3 202.9,188.2 205.0,188.2 205.0,188.0 207.4,188.0 207.4,187.6 210.1,187.6 210.1,187.3 213.7,187.3 213.7,186.8 216.4,186.8 216.4,186.4 218.0,186.4 218.0,186.2 221.5,186.2 221.5,185.7 224.1,185.7 224.1,185.4 226.9,185.4 226.9,185.0 229.0,185.0 229.0,184.4 231.5,184.4 231.5,183.6 234.0,183.6 234.0,182.9 237.4,182.9 237.4,181.8 239.2,181.8 239.2,181.2 242.1,181.2 242.1,180.4 244.0,180.4 244.0,179.8 247.3,179.8 247.3,178.7 248.9,178.7 248.9,178.2 251.0,178.2 251.0,177.5 253.4,177.5 253.4,176.7 256.5,176.7 256.5,175.7 258.1,175.7 258.1,175.1 260.8,175.1 260.8,174.3 262.8,174.3 262.8,173.6 265.0,173.6 265.0,172.9 267.7,172.9 267.7,171.7 271.6,171.7 271.6,170.0 274.3,170.0 274.3,168.8 278.2,168.8 278.2,167.0 280.1,167.0 280.1,166.2 283.9,166.2 283.9,164.6 286.3,164.6 286.3,163.7 288.3,163.7 288.3,162.9 291.7,162.9 291.7,161.5 295.4,161.5 295.4,160.0 297.0,160.0 297.0,159.5 299.1,159.5 299.1,158.7 302.6,158.7 302.6,157.5 304.9,157.5 304.9,156.7 307.0,156.7 307.0,155.9 308.5,155.9 308.5,155.4 310.1,155.4 310.1,154.8 313.2,154.8 313.2,153.9 317.1,153.9 317.1,152.7 321.1,152.7 321.1,151.5 323.9,151.5 323.9,150.7 325.5,150.7 325.5,150.2 327.8,150.2 327.8,149.6 331.2,149.6 331.2,148.7 334.8,148.7 334.8,147.8 337.9,147.8 337.9,147.1 340.0,147.1 340.0,146.6 342.8,146.6 342.8,145.8 345.5,145.8 345.5,145.1 348.6,145.1 348.6,144.0 350.7,144.0 350.7,143.3 354.6,143.3 354.6,142.0 358.3,142.0 358.3,140.5 360.2,140.5 360.2,139.7 362.5,139.7 362.5,138.8 366.1,138.8 366.1,137.3 368.3,137.3 368.3,136.4 372.2,136.4 372.2,134.8 375.0,134.8 375.0,133.7 378.2,133.7 378.2,133.1 381.5,133.1 381.5,132.5 383.5,132.5 383.5,132.1 385.7,132.1 385.7,131.7 387.9,131.7 387.9,131.3 391.1,131.3 391.1,130.6 394.3,130.6 394.3,130.0 396.1,130.0 396.1,129.7 399.9,129.7 399.9,128.9 402.4,128.9 402.4,128.4 404.5,128.4 404.5,128.0 407.1,128.0 407.1,127.5 411.1,127.5 411.1,126.7 414.0,126.7 414.0,126.1 417.0,126.1 417.0,125.5 420.8,125.5 420.8,125.3 424.7,125.3 424.7,125.2 428.1,125.2 428.1,125.1 430.7,125.1 430.7,125.0 433.6,125.0 433.6,124.9 437.4,124.9 437.4,124.8 440.9,124.8 440.9,124.8 443.8,124.8 443.8,124.8 446.2,124.8 446.2,124.8 448.6,124.8 448.6,124.8 451.9,124.8 451.9,124.8 454.9,124.8 454.9,124.8 456.4,124.8 456.4,124.8 459.7,124.8 459.7,124.8 463.4,124.8 463.4,124.8 466.9,124.8 466.9,124.6 470.7,124.6 470.7,124.3 474.4,124.3 474.4,124.2 477.3,124.2 477.3,124.2 480.8,124.2 480.8,124.2 483.2,124.2 483.2,124.2 484.9,124.2 484.9,124.2 487.3,124.2 487.3,124.2 489.6,124.2 489.6,124.2 493.4,124.2 493.4,124.2 496.7,124.2 496.7,124.2 499.5,124.2 499.5,124.2 502.6,124.2 502.6,124.2 504.4,124.2 504.4,124.2 507.2,124.2 507.2,124.2 510.5,124.2 510.5,124.2 511.2,124.2 511.2,124.2" fill="none" stroke="#ee8a25" stroke-width="1.2" stroke-linejoin="miter"/>
<path d="M58.2,201.4v2.6 M61.4,201.3v2.6 M64.6,201.1v2.6 M67.8,200.9v2.6 M71.0,200.8v2.6 M74.2,200.6v2.6 M77.4,200.5v2.6 M80.6,200.3v2.6 M83.8,200.2v2.6 M87.0,199.4v2.6 M90.2,198.6v2.6 M93.4,198.2v2.6 M96.6,197.1v2.6 M99.8,196.1v2.6 M103.0,195.7v2.6 M106.2,195.5v2.6 M109.4,195.4v2.6 M112.6,195.3v2.6 M115.8,195.3v2.6 M119.0,195.2v2.6 M122.2,195.1v2.6 M125.4,195.0v2.6 M128.6,194.9v2.6 M131.8,194.7v2.6 M135.0,194.1v2.6 M138.2,193.5v2.6 M141.4,192.8v2.6 M144.6,192.5v2.6 M147.8,192.2v2.6 M151.0,191.6v2.6 M154.2,191.3v2.6 M157.4,191.0v2.6 M160.6,191.0v2.6 M163.8,190.5v2.6 M167.0,190.2v2.6 M170.2,190.0v2.6 M173.4,189.7v2.6 M176.6,189.4v2.6 M179.8,189.0v2.6 M183.0,188.6v2.6 M186.2,188.6v2.6 M189.4,188.2v2.6 M192.6,187.7v2.6 M195.8,187.5v2.6 M199.0,187.3v2.6 M202.2,187.0v2.6 M205.4,186.7v2.6 M208.6,186.3v2.6 M211.8,186.0v2.6 M215.0,185.5v2.6 M218.2,184.9v2.6 M221.4,184.9v2.6 M224.6,184.1v2.6 M227.8,183.7v2.6 M231.0,183.1v2.6 M234.2,181.6v2.6 M237.4,181.6v2.6 M240.6,179.9v2.6 M243.8,179.1v2.6 M247.0,178.5v2.6 M250.2,176.9v2.6 M253.4,176.2v2.6 M256.6,174.4v2.6 M259.8,173.8v2.6 M263.0,172.3v2.6 M266.2,171.6v2.6 M269.4,170.4v2.6 M272.6,168.7v2.6 M275.8,167.5v2.6 M279.0,165.7v2.6 M282.2,164.9v2.6 M285.4,163.3v2.6 M288.6,161.6v2.6 M291.8,160.2v2.6 M295.0,160.2v2.6 M298.2,158.2v2.6 M301.4,157.4v2.6 M304.6,156.2v2.6 M307.8,154.6v2.6 M311.0,153.5v2.6 M314.2,152.6v2.6 M317.4,151.4v2.6 M320.6,151.4v2.6 M323.8,150.2v2.6 M327.0,148.9v2.6 M330.2,148.3v2.6 M333.4,147.4v2.6 M336.6,146.5v2.6 M339.8,145.8v2.6 M343.0,144.5v2.6 M346.2,143.8v2.6 M349.4,142.7v2.6 M352.6,142.0v2.6 M355.8,140.7v2.6 M359.0,139.2v2.6 M362.2,138.4v2.6 M365.4,137.5v2.6 M368.6,135.1v2.6 M371.8,135.1v2.6 M375.0,132.4v2.6 M378.2,132.4v2.6 M381.4,131.8v2.6 M384.6,130.8v2.6 M387.8,130.4v2.6 M391.0,130.0v2.6 M394.2,129.3v2.6 M397.4,128.4v2.6 M400.6,127.6v2.6 M403.8,127.1v2.6 M407.0,126.7v2.6 M410.2,126.2v2.6 M413.4,125.4v2.6 M416.6,124.8v2.6 M419.8,124.2v2.6 M423.0,124.0v2.6 M426.2,123.9v2.6 M429.4,123.8v2.6 M432.6,123.7v2.6 M435.8,123.6v2.6 M439.0,123.5v2.6 M442.2,123.5v2.6 M445.4,123.5v2.6 M448.6,123.5v2.6 M451.8,123.5v2.6 M455.0,123.5v2.6 M458.2,123.5v2.6 M461.4,123.5v2.6 M464.6,123.5v2.6 M467.8,123.3v2.6 M471.0,123.0v2.6 M474.2,123.0v2.6 M477.4,122.9v2.6 M480.6,122.9v2.6 M483.8,122.9v2.6 M487.0,122.9v2.6 M490.2,122.9v2.6 M493.4,122.9v2.6 M496.6,122.9v2.6 M499.8,122.9v2.6 M503.0,122.9v2.6 M506.2,122.9v2.6 M509.4,122.9v2.6" stroke="#ee8a25" stroke-width="0.7" fill="none"/>
<polyline points="56.2,202.7 58.8,202.7 58.8,202.6 61.7,202.6 61.7,202.5 65.5,202.5 65.5,202.3 68.2,202.3 68.2,202.2 71.0,202.2 71.0,202.1 73.9,202.1 73.9,202.0 75.9,202.0 75.9,202.0 78.7,202.0 78.7,201.8 81.8,201.8 81.8,201.7 85.2,201.7 85.2,201.5 87.0,201.5 87.0,201.4 89.2,201.4 89.2,201.3 91.0,201.3 91.0,201.2 94.5,201.2 94.5,201.0 97.7,201.0 97.7,200.8 99.3,200.8 99.3,200.8 103.3,200.8 103.3,200.5 107.2,200.5 107.2,200.3 110.3,200.3 110.3,200.2 113.4,200.2 113.4,200.0 115.3,200.0 115.3,199.9 116.8,199.9 116.8,199.8 119.6,199.8 119.6,199.7 121.3,199.7 121.3,199.6 123.2,199.6 123.2,199.5 125.3,199.5 125.3,199.3 126.9,199.3 126.9,199.3 129.6,199.3 129.6,199.1 132.2,199.1 132.2,199.0 135.8,199.0 135.8,198.9 138.6,198.9 138.6,198.8 141.7,198.8 141.7,198.7 144.4,198.7 144.4,198.6 147.6,198.6 147.6,198.5 150.2,198.5 150.2,198.4 152.4,198.4 152.4,198.3 156.4,198.3 156.4,198.1 160.4,198.1 160.4,198.0 164.0,198.0 164.0,197.8 167.3,197.8 167.3,197.7 169.6,197.7 169.6,197.5 171.6,197.5 171.6,197.3 173.9,197.3 173.9,197.0 175.5,197.0 175.5,196.8 179.0,196.8 179.0,196.4 181.5,196.4 181.5,196.1 185.1,196.1 185.1,195.7 187.5,195.7 187.5,195.4 191.4,195.4 191.4,195.0 195.1,195.0 195.1,194.5 196.6,194.5 196.6,194.4 198.6,194.4 198.6,194.1 202.4,194.1 202.4,193.7 205.0,193.7 205.0,193.4 209.0,193.4 209.0,193.2 211.5,193.2 211.5,193.1 213.2,193.1 213.2,193.0 216.2,193.0 216.2,192.9 219.7,192.9 219.7,192.7 221.9,192.7 221.9,192.6 223.6,192.6 223.6,192.5 225.9,192.5 225.9,192.4 229.8,192.4 229.8,192.2 233.2,192.2 233.2,192.0 235.0,192.0 235.0,191.9 237.1,191.9 237.1,191.5 238.9,191.5 238.9,191.2 240.5,191.2 240.5,191.0 244.0,191.0 244.0,190.4 246.0,190.4 246.0,190.1 248.9,190.1 248.9,189.6 251.5,189.6 251.5,189.1 253.5,189.1 253.5,188.8 256.8,188.8 256.8,188.3 258.6,188.3 258.6,188.0 261.7,188.0 261.7,187.6 263.5,187.6 263.5,187.3 266.1,187.3 266.1,186.9 268.1,186.9 268.1,186.7 270.3,186.7 270.3,186.4 274.2,186.4 274.2,185.8 277.7,185.8 277.7,185.3 280.0,185.3 280.0,185.0 283.7,185.0 283.7,184.0 285.7,184.0 285.7,183.5 288.2,183.5 288.2,182.8 291.8,182.8 291.8,181.8 294.9,181.8 294.9,181.0 296.7,181.0 296.7,180.5 300.7,180.5 300.7,179.5 302.7,179.5 302.7,178.9 304.8,178.9 304.8,178.4 308.3,178.4 308.3,177.5 310.6,177.5 310.6,177.0 312.8,177.0 312.8,176.5 314.5,176.5 314.5,176.2 316.2,176.2 316.2,175.8 319.2,175.8 319.2,175.2 321.3,175.2 321.3,174.8 324.3,174.8 324.3,174.2 326.7,174.2 326.7,173.7 329.4,173.7 329.4,173.1 333.3,173.1 333.3,172.2 336.0,172.2 336.0,171.5 338.9,171.5 338.9,170.9 342.6,170.9 342.6,170.6 344.5,170.6 344.5,170.4 346.4,170.4 346.4,170.3 350.2,170.3 350.2,170.0 353.7,170.0 353.7,169.8 355.9,169.8 355.9,169.6 357.8,169.6 357.8,169.5 361.2,169.5 361.2,169.2 365.0,169.2 365.0,168.9 367.0,168.9 367.0,168.5 370.9,168.5 370.9,167.7 374.6,167.7 374.6,167.0 377.6,167.0 377.6,166.5 380.2,166.5 380.2,166.2 381.9,166.2 381.9,166.0 383.5,166.0 383.5,165.8 387.4,165.8 387.4,165.3 389.5,165.3 389.5,165.1 392.8,165.1 392.8,164.6 394.9,164.6 394.9,164.2 398.5,164.2 398.5,163.7 401.5,163.7 401.5,163.2 403.7,163.2 403.7,163.1 405.7,163.1 405.7,163.0 409.0,163.0 409.0,162.9 410.6,162.9 410.6,162.9 412.7,162.9 412.7,162.8 415.6,162.8 415.6,162.8 419.2,162.8 419.2,162.7 422.3,162.7 422.3,162.6 424.5,162.6 424.5,162.5 428.3,162.5 428.3,162.4 430.3,162.4 430.3,162.4 431.8,162.4 431.8,162.4 434.0,162.4 434.0,162.3 436.6,162.3 436.6,161.7 438.2,161.7 438.2,161.3 440.2,161.3 440.2,160.8 442.6,160.8 442.6,160.4 445.5,160.4 445.5,160.4 447.4,160.4 447.4,160.4 449.8,160.4 449.8,160.4 453.5,160.4 453.5,160.4 457.5,160.4 457.5,160.4 460.6,160.4 460.6,160.4 463.8,160.4 463.8,160.4 466.8,160.4 466.8,160.4 468.6,160.4 468.6,160.4 470.2,160.4 470.2,160.4 471.8,160.4 471.8,160.4 475.5,160.4 475.5,160.4 478.8,160.4 478.8,160.4 482.7,160.4 482.7,160.4 484.3,160.4 484.3,160.4 487.3,160.4 487.3,160.4 490.1,160.4 490.1,160.4 493.4,160.4 493.4,160.4 495.7,160.4 495.7,160.4 499.7,160.4 499.7,160.4 501.4,160.4 501.4,160.4 504.2,160.4 504.2,160.4 507.6,160.4 507.6,160.4 511.2,160.4 511.2,160.4" fill="none" stroke="#505050" stroke-width="1.2" stroke-linejoin="miter"/>
<path d="M58.2,201.4v2.6 M61.4,201.3v2.6 M64.6,201.2v2.6 M67.8,201.0v2.6 M71.0,200.8v2.6 M74.2,200.7v2.6 M77.4,200.7v2.6 M80.6,200.5v2.6 M83.8,200.4v2.6 M87.0,200.1v2.6 M90.2,200.0v2.6 M93.4,199.9v2.6 M96.6,199.7v2.6 M99.8,199.5v2.6 M103.0,199.5v2.6 M106.2,199.2v2.6 M109.4,199.0v2.6 M112.6,198.9v2.6 M115.8,198.6v2.6 M119.0,198.5v2.6 M122.2,198.3v2.6 M125.4,198.0v2.6 M128.6,198.0v2.6 M131.8,197.8v2.6 M135.0,197.7v2.6 M138.2,197.6v2.6 M141.4,197.5v2.6 M144.6,197.3v2.6 M147.8,197.2v2.6 M151.0,197.1v2.6 M154.2,197.0v2.6 M157.4,196.8v2.6 M160.6,196.7v2.6 M163.8,196.7v2.6 M167.0,196.5v2.6 M170.2,196.2v2.6 M173.4,196.0v2.6 M176.6,195.5v2.6 M179.8,195.1v2.6 M183.0,194.8v2.6 M186.2,194.4v2.6 M189.4,194.1v2.6 M192.6,193.7v2.6 M195.8,193.2v2.6 M199.0,192.8v2.6 M202.2,192.8v2.6 M205.4,192.1v2.6 M208.6,192.1v2.6 M211.8,191.8v2.6 M215.0,191.7v2.6 M218.2,191.6v2.6 M221.4,191.4v2.6 M224.6,191.2v2.6 M227.8,191.1v2.6 M231.0,190.9v2.6 M234.2,190.7v2.6 M237.4,190.2v2.6 M240.6,189.7v2.6 M243.8,189.7v2.6 M247.0,188.8v2.6 M250.2,188.3v2.6 M253.4,187.8v2.6 M256.6,187.5v2.6 M259.8,186.7v2.6 M263.0,186.3v2.6 M266.2,185.6v2.6 M269.4,185.4v2.6 M272.6,185.1v2.6 M275.8,184.5v2.6 M279.0,184.0v2.6 M282.2,183.7v2.6 M285.4,182.7v2.6 M288.6,181.5v2.6 M291.8,181.5v2.6 M295.0,179.7v2.6 M298.2,179.2v2.6 M301.4,178.2v2.6 M304.6,177.6v2.6 M307.8,177.1v2.6 M311.0,175.7v2.6 M314.2,175.2v2.6 M317.4,174.5v2.6 M320.6,173.9v2.6 M323.8,173.5v2.6 M327.0,172.4v2.6 M330.2,171.8v2.6 M333.4,170.9v2.6 M336.6,170.2v2.6 M339.8,169.6v2.6 M343.0,169.3v2.6 M346.2,169.1v2.6 M349.4,169.0v2.6 M352.6,168.7v2.6 M355.8,168.5v2.6 M359.0,168.2v2.6 M362.2,167.9v2.6 M365.4,167.6v2.6 M368.6,167.2v2.6 M371.8,166.4v2.6 M375.0,165.7v2.6 M378.2,165.2v2.6 M381.4,164.9v2.6 M384.6,164.5v2.6 M387.8,164.0v2.6 M391.0,163.8v2.6 M394.2,163.3v2.6 M397.4,162.9v2.6 M400.6,162.4v2.6 M403.8,161.8v2.6 M407.0,161.7v2.6 M410.2,161.6v2.6 M413.4,161.5v2.6 M416.6,161.5v2.6 M419.8,161.4v2.6 M423.0,161.3v2.6 M426.2,161.2v2.6 M429.4,161.1v2.6 M432.6,161.1v2.6 M435.8,161.0v2.6 M439.0,160.0v2.6 M442.2,159.5v2.6 M445.4,159.1v2.6 M448.6,159.1v2.6 M451.8,159.1v2.6 M455.0,159.1v2.6 M458.2,159.1v2.6 M461.4,159.1v2.6 M464.6,159.1v2.6 M467.8,159.1v2.6 M471.0,159.1v2.6 M474.2,159.1v2.6 M477.4,159.1v2.6 M480.6,159.1v2.6 M483.8,159.1v2.6 M487.0,159.1v2.6 M490.2,159.1v2.6 M493.4,159.1v2.6 M496.6,159.1v2.6 M499.8,159.1v2.6 M503.0,159.1v2.6 M506.2,159.1v2.6 M509.4,159.1v2.6" stroke="#505050" stroke-width="0.7" fill="none"/>
<polyline points="56.2,202.7 58.3,202.7 58.3,201.8 61.6,201.8 61.6,200.4 64.8,200.4 64.8,198.9 68.4,198.9 68.4,196.5 70.4,196.5 70.4,196.2 72.4,196.2 72.4,196.2 74.3,196.2 74.3,196.2 76.4,196.2 76.4,196.2 79.7,196.2 79.7,196.2 81.5,196.2 81.5,196.2 84.4,196.2 84.4,196.1 86.4,196.1 86.4,194.0 88.6,194.0 88.6,193.2 91.2,193.2 91.2,192.5 94.8,192.5 94.8,192.3 97.8,192.3 97.8,192.3 99.4,192.3 99.4,192.3 101.5,192.3 101.5,192.3 103.4,192.3 103.4,192.3 107.1,192.3 107.1,189.1 110.6,189.1 110.6,186.2 114.1,186.2 114.1,186.2 117.7,186.2 117.7,186.2 121.1,186.2 121.1,185.2 124.9,185.2 124.9,184.6 128.4,184.6 128.4,184.6 130.6,184.6 130.6,184.4 134.2,184.4 134.2,184.1 136.9,184.1 136.9,183.9 140.3,183.9 140.3,183.1 143.2,183.1 143.2,181.6 145.8,181.6 145.8,180.3 148.2,180.3 148.2,179.2 150.8,179.2 150.8,179.2 153.0,179.2 153.0,179.2 154.8,179.2 154.8,179.2 158.4,179.2 158.4,179.2 161.9,179.2 161.9,177.6 165.8,177.6 165.8,177.0 169.1,177.0 169.1,177.2 172.0,177.2 172.0,177.3 175.3,177.3 175.3,177.4 177.2,177.4 177.2,177.5 180.4,177.5 180.4,177.6 183.0,177.6 183.0,177.3 184.9,177.3 184.9,176.7 186.9,176.7 186.9,176.0 189.7,176.0 189.7,174.9 191.9,174.9 191.9,174.0 194.5,174.0 194.5,172.8 197.5,172.8 197.5,170.0 200.0,170.0 200.0,169.9 201.8,169.9 201.8,169.8 204.6,169.8 204.6,169.7 206.6,169.7 206.6,169.6 208.7,169.6 208.7,169.3 210.7,169.3 210.7,168.8 213.1,168.8 213.1,168.1 214.8,168.1 214.8,167.7 217.9,167.7 217.9,166.9 221.8,166.9 221.8,165.8 224.3,165.8 224.3,165.0 227.6,165.0 227.6,164.0 231.4,164.0 231.4,162.9 233.0,162.9 233.0,162.4 234.9,162.4 234.9,161.9 238.4,161.9 238.4,160.4 242.0,160.4 242.0,158.9 245.1,158.9 245.1,158.2 247.0,158.2 247.0,158.4 249.5,158.4 249.5,158.6 253.2,158.6 253.2,158.1 256.9,158.1 256.9,156.2 260.4,156.2 260.4,153.8 262.4,153.8 262.4,151.6 266.1,151.6 266.1,147.5 268.5,147.5 268.5,144.7 271.8,144.7 271.8,141.1 273.6,141.1 273.6,140.2 277.6,140.2 277.6,138.0 280.6,138.0 280.6,136.2 283.9,136.2 283.9,134.2 285.9,134.2 285.9,132.2 289.0,132.2 289.0,128.6 291.9,128.6 291.9,125.1 294.9,125.1 294.9,123.3 297.3,123.3 297.3,122.1 300.6,122.1 300.6,121.9 303.0,121.9 303.0,122.3 305.2,122.3 305.2,119.8 307.1,119.8 307.1,117.6 310.3,117.6 310.3,116.7 312.1,116.7 312.1,116.5 314.2,116.5 314.2,116.3 315.8,116.3 315.8,115.9 319.0,115.9 319.0,113.9 321.8,113.9 321.8,112.0 324.7,112.0 324.7,109.2 326.3,109.2 326.3,107.5 328.9,107.5 328.9,100.8 331.3,100.8 331.3,100.0 333.0,100.0 333.0,99.2 334.5,99.2 334.5,97.4 338.5,97.4 338.5,94.0 340.3,94.0 340.3,93.2 342.5,93.2 342.5,92.3 344.7,92.3 344.7,91.5 347.7,91.5 347.7,91.1 349.4,91.1 349.4,91.0 352.1,91.0 352.1,90.2 354.5,90.2 354.5,89.2 358.1,89.2 358.1,87.7 359.6,87.7 359.6,87.2 361.9,87.2 361.9,86.3 364.7,86.3 364.7,83.7 368.6,83.7 368.6,79.8 371.4,79.8 371.4,78.2 374.1,78.2 374.1,76.9 377.3,76.9 377.3,76.9 379.5,76.9 379.5,76.9 381.1,76.9 381.1,76.9 383.8,76.9 383.8,76.4 387.6,76.4 387.6,70.8 390.9,70.8 390.9,70.8 393.1,70.8 393.1,70.8 396.3,70.8 396.3,68.4 399.9,68.4 399.9,67.7 402.1,67.7 402.1,67.7 405.0,67.7 405.0,67.7 407.4,67.7 407.4,65.9 409.5,65.9 409.5,64.6 411.8,64.6 411.8,64.4 413.8,64.4 413.8,64.2 416.1,64.2 416.1,64.0 417.7,64.0 417.7,63.9 420.2,63.9 420.2,62.9 422.0,62.9 422.0,61.6 425.3,61.6 425.3,59.2 428.3,59.2 428.3,58.4 429.9,58.4 429.9,58.1 433.3,58.1 433.3,57.7 435.3,57.7 435.3,57.7 438.0,57.7 438.0,57.8 440.9,57.8 440.9,57.8 443.2,57.8 443.2,57.8 445.4,57.8 445.4,57.8 448.0,57.8 448.0,57.9 449.8,57.9 449.8,57.9 453.5,57.9 453.5,57.9 455.3,57.9 455.3,57.9 458.8,57.9 458.8,58.0 460.9,58.0 460.9,58.0 463.1,58.0 463.1,58.0 465.6,58.0 465.6,57.3 467.2,57.3 467.2,56.4 469.0,56.4 469.0,55.4 471.4,55.4 471.4,54.8 474.0,54.8 474.0,54.8 477.7,54.8 477.7,54.8 481.7,54.8 481.7,54.8 483.3,54.8 483.3,54.8 486.1,54.8 486.1,54.8 488.0,54.8 488.0,54.8 491.5,54.8 491.5,54.8 493.8,54.8 493.8,54.8 497.5,54.8 497.5,54.8 500.4,54.8 500.4,54.8 502.2,54.8 502.2,54.8 503.7,54.8 503.7,54.8 505.8,54.8 505.8,54.8 509.5,54.8 509.5,54.8 511.2,54.8 511.2,54.8" fill="none" stroke="#2d8be3" stroke-width="1.2" stroke-linejoin="miter"/>
<path d="M58.2,201.4v2.6 M61.4,200.5v2.6 M64.6,199.1v2.6 M67.8,197.6v2.6 M71.0,194.9v2.6 M74.2,194.9v2.6 M77.4,194.9v2.6 M80.6,194.9v2.6 M83.8,194.9v2.6 M87.0,192.7v2.6 M90.2,191.9v2.6 M93.4,191.2v2.6 M96.6,191.0v2.6 M99.8,191.0v2.6 M103.0,191.0v2.6 M106.2,191.0v2.6 M109.4,187.8v2.6 M112.6,184.9v2.6 M115.8,184.9v2.6 M119.0,184.9v2.6 M122.2,183.9v2.6 M125.4,183.3v2.6 M128.6,183.3v2.6 M131.8,183.1v2.6 M135.0,182.8v2.6 M138.2,182.6v2.6 M141.4,181.8v2.6 M144.6,180.3v2.6 M147.8,179.0v2.6 M151.0,177.9v2.6 M154.2,177.9v2.6 M157.4,177.9v2.6 M160.6,177.9v2.6 M163.8,176.3v2.6 M167.0,175.7v2.6 M170.2,175.9v2.6 M173.4,176.0v2.6 M176.6,176.1v2.6 M179.8,176.2v2.6 M183.0,176.0v2.6 M186.2,175.4v2.6 M189.4,174.7v2.6 M192.6,172.7v2.6 M195.8,171.5v2.6 M199.0,168.7v2.6 M202.2,168.5v2.6 M205.4,168.4v2.6 M208.6,168.3v2.6 M211.8,167.5v2.6 M215.0,166.4v2.6 M218.2,165.6v2.6 M221.4,165.6v2.6 M224.6,163.7v2.6 M227.8,162.7v2.6 M231.0,162.7v2.6 M234.2,161.1v2.6 M237.4,160.6v2.6 M240.6,159.1v2.6 M243.8,157.6v2.6 M247.0,156.9v2.6 M250.2,157.3v2.6 M253.4,156.8v2.6 M256.6,156.8v2.6 M259.8,154.9v2.6 M263.0,150.3v2.6 M266.2,146.2v2.6 M269.4,143.4v2.6 M272.6,139.8v2.6 M275.8,138.9v2.6 M279.0,136.7v2.6 M282.2,134.9v2.6 M285.4,132.9v2.6 M288.6,130.9v2.6 M291.8,127.3v2.6 M295.0,122.0v2.6 M298.2,120.8v2.6 M301.4,120.6v2.6 M304.6,121.0v2.6 M307.8,116.3v2.6 M311.0,115.4v2.6 M314.2,115.0v2.6 M317.4,114.6v2.6 M320.6,112.6v2.6 M323.8,110.7v2.6 M327.0,106.2v2.6 M330.2,99.5v2.6 M333.4,97.9v2.6 M336.6,96.1v2.6 M339.8,92.7v2.6 M343.0,91.0v2.6 M346.2,90.2v2.6 M349.4,89.8v2.6 M352.6,88.9v2.6 M355.8,87.9v2.6 M359.0,86.4v2.6 M362.2,85.0v2.6 M365.4,82.4v2.6 M368.6,78.5v2.6 M371.8,76.9v2.6 M375.0,75.6v2.6 M378.2,75.6v2.6 M381.4,75.6v2.6 M384.6,75.1v2.6 M387.8,69.5v2.6 M391.0,69.5v2.6 M394.2,69.5v2.6 M397.4,67.1v2.6 M400.6,66.4v2.6 M403.8,66.4v2.6 M407.0,66.4v2.6 M410.2,63.3v2.6 M413.4,63.1v2.6 M416.6,62.7v2.6 M419.8,62.6v2.6 M423.0,60.3v2.6 M426.2,57.9v2.6 M429.4,57.1v2.6 M432.6,56.8v2.6 M435.8,56.4v2.6 M439.0,56.5v2.6 M442.2,56.5v2.6 M445.4,56.5v2.6 M448.6,56.6v2.6 M451.8,56.6v2.6 M455.0,56.6v2.6 M458.2,56.6v2.6 M461.4,56.7v2.6 M464.6,56.7v2.6 M467.8,55.1v2.6 M471.0,54.1v2.6 M474.2,53.5v2.6 M477.4,53.5v2.6 M480.6,53.5v2.6 M483.8,53.5v2.6 M487.0,53.5v2.6 M490.2,53.5v2.6 M493.4,53.5v2.6 M496.6,53.5v2.6 M499.8,53.5v2.6 M503.0,53.5v2.6 M506.2,53.5v2.6 M509.4,53.5v2.6" stroke="#2d8be3" stroke-width="0.7" fill="none"/>
<path d="M34,15.8 V210.9 H512.7" fill="none" stroke="#333" stroke-width="1.7" stroke-linejoin="round"/>
<line x1="30.8" y1="202.7" x2="34" y2="202.7" stroke="#333" stroke-width="1.3"/>
<text x="27.9" y="205.39999999999998" font-size="8.6" fill="#333" text-anchor="end" font-weight="normal" textLength="4.5" lengthAdjust="spacingAndGlyphs" >0</text>
<line x1="30.8" y1="166.6" x2="34" y2="166.6" stroke="#333" stroke-width="1.3"/>
<text x="27.9" y="169.32" font-size="8.6" fill="#333" text-anchor="end" font-weight="normal" textLength="4.5" lengthAdjust="spacingAndGlyphs" >1</text>
<line x1="30.8" y1="130.5" x2="34" y2="130.5" stroke="#333" stroke-width="1.3"/>
<text x="27.9" y="133.23999999999998" font-size="8.6" fill="#333" text-anchor="end" font-weight="normal" textLength="4.5" lengthAdjust="spacingAndGlyphs" >2</text>
<line x1="30.8" y1="94.5" x2="34" y2="94.5" stroke="#333" stroke-width="1.3"/>
<text x="27.9" y="97.16" font-size="8.6" fill="#333" text-anchor="end" font-weight="normal" textLength="4.5" lengthAdjust="spacingAndGlyphs" >3</text>
<line x1="30.8" y1="58.4" x2="34" y2="58.4" stroke="#333" stroke-width="1.3"/>
<text x="27.9" y="61.08" font-size="8.6" fill="#333" text-anchor="end" font-weight="normal" textLength="4.5" lengthAdjust="spacingAndGlyphs" >4</text>
<line x1="30.8" y1="22.3" x2="34" y2="22.3" stroke="#333" stroke-width="1.3"/>
<text x="27.9" y="25.00000000000001" font-size="8.6" fill="#333" text-anchor="end" font-weight="normal" textLength="4.5" lengthAdjust="spacingAndGlyphs" >5</text>
<line x1="56.2" y1="210.9" x2="56.2" y2="214" stroke="#333" stroke-width="1.2"/>
<text x="56.2" y="224.7" font-size="8.5" fill="#222" text-anchor="middle" font-weight="normal" textLength="4.2" lengthAdjust="spacingAndGlyphs" >0</text>
<line x1="75.7" y1="210.9" x2="75.7" y2="214" stroke="#333" stroke-width="1.2"/>
<text x="75.7" y="224.7" font-size="8.5" fill="#222" text-anchor="middle" font-weight="normal" textLength="8.4" lengthAdjust="spacingAndGlyphs" >14</text>
<line x1="95.1" y1="210.9" x2="95.1" y2="214" stroke="#333" stroke-width="1.2"/>
<text x="95.1" y="224.7" font-size="8.5" fill="#222" text-anchor="middle" font-weight="normal" textLength="8.4" lengthAdjust="spacingAndGlyphs" >28</text>
<line x1="114.6" y1="210.9" x2="114.6" y2="214" stroke="#333" stroke-width="1.2"/>
<text x="114.6" y="224.7" font-size="8.5" fill="#222" text-anchor="middle" font-weight="normal" textLength="8.4" lengthAdjust="spacingAndGlyphs" >42</text>
<line x1="134.0" y1="210.9" x2="134.0" y2="214" stroke="#333" stroke-width="1.2"/>
<text x="134.0" y="224.7" font-size="8.5" fill="#222" text-anchor="middle" font-weight="normal" textLength="8.4" lengthAdjust="spacingAndGlyphs" >56</text>
<line x1="153.5" y1="210.9" x2="153.5" y2="214" stroke="#333" stroke-width="1.2"/>
<text x="153.5" y="224.7" font-size="8.5" fill="#222" text-anchor="middle" font-weight="normal" textLength="8.4" lengthAdjust="spacingAndGlyphs" >70</text>
<line x1="172.9" y1="210.9" x2="172.9" y2="214" stroke="#333" stroke-width="1.2"/>
<text x="172.9" y="224.7" font-size="8.5" fill="#222" text-anchor="middle" font-weight="normal" textLength="8.4" lengthAdjust="spacingAndGlyphs" >84</text>
<line x1="192.4" y1="210.9" x2="192.4" y2="214" stroke="#333" stroke-width="1.2"/>
<text x="192.4" y="224.7" font-size="8.5" fill="#222" text-anchor="middle" font-weight="normal" textLength="8.4" lengthAdjust="spacingAndGlyphs" >98</text>
<line x1="211.9" y1="210.9" x2="211.9" y2="214" stroke="#333" stroke-width="1.2"/>
<text x="211.9" y="224.7" font-size="8.5" fill="#222" text-anchor="middle" font-weight="normal" textLength="12.600000000000001" lengthAdjust="spacingAndGlyphs" >112</text>
<line x1="231.3" y1="210.9" x2="231.3" y2="214" stroke="#333" stroke-width="1.2"/>
<text x="231.3" y="224.7" font-size="8.5" fill="#222" text-anchor="middle" font-weight="normal" textLength="12.600000000000001" lengthAdjust="spacingAndGlyphs" >126</text>
<line x1="250.8" y1="210.9" x2="250.8" y2="214" stroke="#333" stroke-width="1.2"/>
<text x="250.8" y="224.7" font-size="8.5" fill="#222" text-anchor="middle" font-weight="normal" textLength="12.600000000000001" lengthAdjust="spacingAndGlyphs" >140</text>
<line x1="270.2" y1="210.9" x2="270.2" y2="214" stroke="#333" stroke-width="1.2"/>
<text x="270.2" y="224.7" font-size="8.5" fill="#222" text-anchor="middle" font-weight="normal" textLength="12.600000000000001" lengthAdjust="spacingAndGlyphs" >154</text>
<line x1="289.7" y1="210.9" x2="289.7" y2="214" stroke="#333" stroke-width="1.2"/>
<text x="289.7" y="224.7" font-size="8.5" fill="#222" text-anchor="middle" font-weight="normal" textLength="12.600000000000001" lengthAdjust="spacingAndGlyphs" >168</text>
<line x1="309.1" y1="210.9" x2="309.1" y2="214" stroke="#333" stroke-width="1.2"/>
<text x="309.1" y="224.7" font-size="8.5" fill="#222" text-anchor="middle" font-weight="normal" textLength="12.600000000000001" lengthAdjust="spacingAndGlyphs" >182</text>
<line x1="328.6" y1="210.9" x2="328.6" y2="214" stroke="#333" stroke-width="1.2"/>
<text x="328.6" y="224.7" font-size="8.5" fill="#222" text-anchor="middle" font-weight="normal" textLength="12.600000000000001" lengthAdjust="spacingAndGlyphs" >196</text>
<line x1="348.1" y1="210.9" x2="348.1" y2="214" stroke="#333" stroke-width="1.2"/>
<text x="348.1" y="224.7" font-size="8.5" fill="#222" text-anchor="middle" font-weight="normal" textLength="12.600000000000001" lengthAdjust="spacingAndGlyphs" >210</text>
<line x1="367.5" y1="210.9" x2="367.5" y2="214" stroke="#333" stroke-width="1.2"/>
<text x="367.5" y="224.7" font-size="8.5" fill="#222" text-anchor="middle" font-weight="normal" textLength="12.600000000000001" lengthAdjust="spacingAndGlyphs" >224</text>
<line x1="387.0" y1="210.9" x2="387.0" y2="214" stroke="#333" stroke-width="1.2"/>
<text x="387.0" y="224.7" font-size="8.5" fill="#222" text-anchor="middle" font-weight="normal" textLength="12.600000000000001" lengthAdjust="spacingAndGlyphs" >238</text>
<line x1="406.4" y1="210.9" x2="406.4" y2="214" stroke="#333" stroke-width="1.2"/>
<text x="406.4" y="224.7" font-size="8.5" fill="#222" text-anchor="middle" font-weight="normal" textLength="12.600000000000001" lengthAdjust="spacingAndGlyphs" >252</text>
<line x1="425.9" y1="210.9" x2="425.9" y2="214" stroke="#333" stroke-width="1.2"/>
<text x="425.9" y="224.7" font-size="8.5" fill="#222" text-anchor="middle" font-weight="normal" textLength="12.600000000000001" lengthAdjust="spacingAndGlyphs" >266</text>
<line x1="445.3" y1="210.9" x2="445.3" y2="214" stroke="#333" stroke-width="1.2"/>
<text x="445.3" y="224.7" font-size="8.5" fill="#222" text-anchor="middle" font-weight="normal" textLength="12.600000000000001" lengthAdjust="spacingAndGlyphs" >280</text>
<line x1="464.8" y1="210.9" x2="464.8" y2="214" stroke="#333" stroke-width="1.2"/>
<text x="464.8" y="224.7" font-size="8.5" fill="#222" text-anchor="middle" font-weight="normal" textLength="12.600000000000001" lengthAdjust="spacingAndGlyphs" >294</text>
<line x1="484.3" y1="210.9" x2="484.3" y2="214" stroke="#333" stroke-width="1.2"/>
<text x="484.3" y="224.7" font-size="8.5" fill="#222" text-anchor="middle" font-weight="normal" textLength="12.600000000000001" lengthAdjust="spacingAndGlyphs" >308</text>
<line x1="503.7" y1="210.9" x2="503.7" y2="214" stroke="#333" stroke-width="1.2"/>
<text x="503.7" y="224.7" font-size="8.5" fill="#222" text-anchor="middle" font-weight="normal" textLength="12.600000000000001" lengthAdjust="spacingAndGlyphs" >322</text>
<g transform="translate(18.1,113.2) rotate(-90)"><text x="0" y="0" font-size="10.2" fill="#333" text-anchor="middle" font-weight="normal" textLength="171" lengthAdjust="spacingAndGlyphs" >Cumulative incidence of breakthrough infection (%)</text></g>
<rect x="53" y="22.1" width="6.8" height="6.6" fill="#bde0fd"/>
<line x1="53" y1="25.4" x2="59.8" y2="25.4" stroke="#2d8be3" stroke-width="1.2"/>
<line x1="56.2" y1="23.6" x2="56.2" y2="27.2" stroke="#2d8be3" stroke-width="0.8"/>
<text x="64.9" y="28.299999999999997" font-size="8.6" fill="#2a2a2a" text-anchor="start" font-weight="normal" textLength="12.9" lengthAdjust="spacingAndGlyphs" stroke="#2a2a2a" stroke-width="0.1" >MM</text>
<rect x="53" y="33.5" width="6.8" height="6.6" fill="#fdd9b4"/>
<line x1="53" y1="36.8" x2="59.8" y2="36.8" stroke="#ee8a25" stroke-width="1.2"/>
<line x1="56.2" y1="35.0" x2="56.2" y2="38.5" stroke="#ee8a25" stroke-width="0.8"/>
<text x="64.9" y="39.65" font-size="8.6" fill="#2a2a2a" text-anchor="start" font-weight="normal" textLength="21.5" lengthAdjust="spacingAndGlyphs" stroke="#2a2a2a" stroke-width="0.1" >MGUS</text>
<rect x="53" y="44.8" width="6.8" height="6.6" fill="#e3e3e3"/>
<line x1="53" y1="48.1" x2="59.8" y2="48.1" stroke="#9a9a9a" stroke-width="1.2"/>
<line x1="56.2" y1="46.3" x2="56.2" y2="49.9" stroke="#9a9a9a" stroke-width="0.8"/>
<text x="64.9" y="50.99999999999999" font-size="8.6" fill="#2a2a2a" text-anchor="start" font-weight="normal" textLength="51.3" lengthAdjust="spacingAndGlyphs" stroke="#2a2a2a" stroke-width="0.1" >Control for MM</text>
<rect x="53" y="56.1" width="6.8" height="6.6" fill="#b3b3b3"/>
<line x1="53" y1="59.4" x2="59.8" y2="59.4" stroke="#505050" stroke-width="1.2"/>
<line x1="56.2" y1="57.6" x2="56.2" y2="61.2" stroke="#505050" stroke-width="0.8"/>
<text x="64.9" y="62.349999999999994" font-size="8.6" fill="#2a2a2a" text-anchor="start" font-weight="normal" textLength="60.0" lengthAdjust="spacingAndGlyphs" stroke="#2a2a2a" stroke-width="0.1" >Control for MGUS</text>
<text x="254" y="238.7" font-size="9.3" fill="#222" text-anchor="start" font-weight="normal" textLength="38" lengthAdjust="spacingAndGlyphs" stroke="#222" stroke-width="0.1" >Time (days)</text>
<text x="48.7" y="252.1" font-size="8.7" fill="#1a1a1a" text-anchor="start" font-weight="normal" textLength="52.5" lengthAdjust="spacingAndGlyphs" >Number at risk</text>
<line x1="35.2" y1="261.8" x2="45" y2="261.8" stroke="#2d8be3" stroke-width="1.5"/>
<text x="56.2" y="264.4" font-size="7.3" fill="#2d8be3" text-anchor="middle" font-weight="normal" textLength="14.4" lengthAdjust="spacingAndGlyphs" >2470</text>
<text x="75.7" y="264.4" font-size="7.3" fill="#2d8be3" text-anchor="middle" font-weight="normal" textLength="14.4" lengthAdjust="spacingAndGlyphs" >2457</text>
<text x="95.1" y="264.4" font-size="7.3" fill="#2d8be3" text-anchor="middle" font-weight="normal" textLength="14.4" lengthAdjust="spacingAndGlyphs" >2442</text>
<text x="114.6" y="264.4" font-size="7.3" fill="#2d8be3" text-anchor="middle" font-weight="normal" textLength="14.4" lengthAdjust="spacingAndGlyphs" >2428</text>
<text x="134.0" y="264.4" font-size="7.3" fill="#2d8be3" text-anchor="middle" font-weight="normal" textLength="14.4" lengthAdjust="spacingAndGlyphs" >2411</text>
<text x="153.5" y="264.4" font-size="7.3" fill="#2d8be3" text-anchor="middle" font-weight="normal" textLength="14.4" lengthAdjust="spacingAndGlyphs" >2395</text>
<text x="172.9" y="264.4" font-size="7.3" fill="#2d8be3" text-anchor="middle" font-weight="normal" textLength="14.4" lengthAdjust="spacingAndGlyphs" >2368</text>
<text x="192.4" y="264.4" font-size="7.3" fill="#2d8be3" text-anchor="middle" font-weight="normal" textLength="14.4" lengthAdjust="spacingAndGlyphs" >2352</text>
<text x="211.9" y="264.4" font-size="7.3" fill="#2d8be3" text-anchor="middle" font-weight="normal" textLength="14.4" lengthAdjust="spacingAndGlyphs" >2327</text>
<text x="231.3" y="264.4" font-size="7.3" fill="#2d8be3" text-anchor="middle" font-weight="normal" textLength="14.4" lengthAdjust="spacingAndGlyphs" >2298</text>
<text x="250.8" y="264.4" font-size="7.3" fill="#2d8be3" text-anchor="middle" font-weight="normal" textLength="14.4" lengthAdjust="spacingAndGlyphs" >2278</text>
<text x="270.2" y="264.4" font-size="7.3" fill="#2d8be3" text-anchor="middle" font-weight="normal" textLength="14.4" lengthAdjust="spacingAndGlyphs" >2255</text>
<text x="289.7" y="264.4" font-size="7.3" fill="#2d8be3" text-anchor="middle" font-weight="normal" textLength="14.4" lengthAdjust="spacingAndGlyphs" >2226</text>
<text x="309.1" y="264.4" font-size="7.3" fill="#2d8be3" text-anchor="middle" font-weight="normal" textLength="14.4" lengthAdjust="spacingAndGlyphs" >2191</text>
<text x="328.6" y="264.4" font-size="7.3" fill="#2d8be3" text-anchor="middle" font-weight="normal" textLength="14.4" lengthAdjust="spacingAndGlyphs" >2139</text>
<text x="348.1" y="264.4" font-size="7.3" fill="#2d8be3" text-anchor="middle" font-weight="normal" textLength="14.4" lengthAdjust="spacingAndGlyphs" >2075</text>
<text x="367.5" y="264.4" font-size="7.3" fill="#2d8be3" text-anchor="middle" font-weight="normal" textLength="14.4" lengthAdjust="spacingAndGlyphs" >1998</text>
<text x="387.0" y="264.4" font-size="7.3" fill="#2d8be3" text-anchor="middle" font-weight="normal" textLength="14.4" lengthAdjust="spacingAndGlyphs" >1866</text>
<text x="406.4" y="264.4" font-size="7.3" fill="#2d8be3" text-anchor="middle" font-weight="normal" textLength="14.4" lengthAdjust="spacingAndGlyphs" >1656</text>
<text x="425.9" y="264.4" font-size="7.3" fill="#2d8be3" text-anchor="middle" font-weight="normal" textLength="14.4" lengthAdjust="spacingAndGlyphs" >1361</text>
<text x="445.3" y="264.4" font-size="7.3" fill="#2d8be3" text-anchor="middle" font-weight="normal" textLength="10.8" lengthAdjust="spacingAndGlyphs" >960</text>
<text x="464.8" y="264.4" font-size="7.3" fill="#2d8be3" text-anchor="middle" font-weight="normal" textLength="10.8" lengthAdjust="spacingAndGlyphs" >398</text>
<text x="484.3" y="264.4" font-size="7.3" fill="#2d8be3" text-anchor="middle" font-weight="normal" textLength="7.2" lengthAdjust="spacingAndGlyphs" >50</text>
<text x="503.7" y="264.4" font-size="7.3" fill="#2d8be3" text-anchor="middle" font-weight="normal" textLength="3.6" lengthAdjust="spacingAndGlyphs" >1</text>
<line x1="35.2" y1="271.4" x2="45" y2="271.4" stroke="#f0953a" stroke-width="1.5"/>
<text x="56.2" y="274.0" font-size="7.3" fill="#f0953a" text-anchor="middle" font-weight="normal" textLength="14.4" lengthAdjust="spacingAndGlyphs" >9230</text>
<text x="75.7" y="274.0" font-size="7.3" fill="#f0953a" text-anchor="middle" font-weight="normal" textLength="14.4" lengthAdjust="spacingAndGlyphs" >9210</text>
<text x="95.1" y="274.0" font-size="7.3" fill="#f0953a" text-anchor="middle" font-weight="normal" textLength="14.4" lengthAdjust="spacingAndGlyphs" >9190</text>
<text x="114.6" y="274.0" font-size="7.3" fill="#f0953a" text-anchor="middle" font-weight="normal" textLength="14.4" lengthAdjust="spacingAndGlyphs" >9162</text>
<text x="134.0" y="274.0" font-size="7.3" fill="#f0953a" text-anchor="middle" font-weight="normal" textLength="14.4" lengthAdjust="spacingAndGlyphs" >9123</text>
<text x="153.5" y="274.0" font-size="7.3" fill="#f0953a" text-anchor="middle" font-weight="normal" textLength="14.4" lengthAdjust="spacingAndGlyphs" >9080</text>
<text x="172.9" y="274.0" font-size="7.3" fill="#f0953a" text-anchor="middle" font-weight="normal" textLength="14.4" lengthAdjust="spacingAndGlyphs" >9033</text>
<text x="192.4" y="274.0" font-size="7.3" fill="#f0953a" text-anchor="middle" font-weight="normal" textLength="14.4" lengthAdjust="spacingAndGlyphs" >8975</text>
<text x="211.9" y="274.0" font-size="7.3" fill="#f0953a" text-anchor="middle" font-weight="normal" textLength="14.4" lengthAdjust="spacingAndGlyphs" >8925</text>
<text x="231.3" y="274.0" font-size="7.3" fill="#f0953a" text-anchor="middle" font-weight="normal" textLength="14.4" lengthAdjust="spacingAndGlyphs" >8875</text>
<text x="250.8" y="274.0" font-size="7.3" fill="#f0953a" text-anchor="middle" font-weight="normal" textLength="14.4" lengthAdjust="spacingAndGlyphs" >8807</text>
<text x="270.2" y="274.0" font-size="7.3" fill="#f0953a" text-anchor="middle" font-weight="normal" textLength="14.4" lengthAdjust="spacingAndGlyphs" >8741</text>
<text x="289.7" y="274.0" font-size="7.3" fill="#f0953a" text-anchor="middle" font-weight="normal" textLength="14.4" lengthAdjust="spacingAndGlyphs" >8665</text>
<text x="309.1" y="274.0" font-size="7.3" fill="#f0953a" text-anchor="middle" font-weight="normal" textLength="14.4" lengthAdjust="spacingAndGlyphs" >8556</text>
<text x="328.6" y="274.0" font-size="7.3" fill="#f0953a" text-anchor="middle" font-weight="normal" textLength="14.4" lengthAdjust="spacingAndGlyphs" >8432</text>
<text x="348.1" y="274.0" font-size="7.3" fill="#f0953a" text-anchor="middle" font-weight="normal" textLength="14.4" lengthAdjust="spacingAndGlyphs" >8250</text>
<text x="367.5" y="274.0" font-size="7.3" fill="#f0953a" text-anchor="middle" font-weight="normal" textLength="14.4" lengthAdjust="spacingAndGlyphs" >7873</text>
<text x="387.0" y="274.0" font-size="7.3" fill="#f0953a" text-anchor="middle" font-weight="normal" textLength="14.4" lengthAdjust="spacingAndGlyphs" >7229</text>
<text x="406.4" y="274.0" font-size="7.3" fill="#f0953a" text-anchor="middle" font-weight="normal" textLength="14.4" lengthAdjust="spacingAndGlyphs" >6164</text>
<text x="425.9" y="274.0" font-size="7.3" fill="#f0953a" text-anchor="middle" font-weight="normal" textLength="14.4" lengthAdjust="spacingAndGlyphs" >4707</text>
<text x="445.3" y="274.0" font-size="7.3" fill="#f0953a" text-anchor="middle" font-weight="normal" textLength="14.4" lengthAdjust="spacingAndGlyphs" >3040</text>
<text x="464.8" y="274.0" font-size="7.3" fill="#f0953a" text-anchor="middle" font-weight="normal" textLength="14.4" lengthAdjust="spacingAndGlyphs" >1040</text>
<text x="484.3" y="274.0" font-size="7.3" fill="#f0953a" text-anchor="middle" font-weight="normal" textLength="10.8" lengthAdjust="spacingAndGlyphs" >106</text>
<text x="503.7" y="274.0" font-size="7.3" fill="#f0953a" text-anchor="middle" font-weight="normal" textLength="7.2" lengthAdjust="spacingAndGlyphs" >15</text>
<line x1="35.2" y1="281.4" x2="45" y2="281.4" stroke="#9b9b9b" stroke-width="1.5"/>
<text x="56.2" y="284.0" font-size="7.3" fill="#9b9b9b" text-anchor="middle" font-weight="normal" textLength="14.4" lengthAdjust="spacingAndGlyphs" >2470</text>
<text x="75.7" y="284.0" font-size="7.3" fill="#9b9b9b" text-anchor="middle" font-weight="normal" textLength="14.4" lengthAdjust="spacingAndGlyphs" >2462</text>
<text x="95.1" y="284.0" font-size="7.3" fill="#9b9b9b" text-anchor="middle" font-weight="normal" textLength="14.4" lengthAdjust="spacingAndGlyphs" >2445</text>
<text x="114.6" y="284.0" font-size="7.3" fill="#9b9b9b" text-anchor="middle" font-weight="normal" textLength="14.4" lengthAdjust="spacingAndGlyphs" >2428</text>
<text x="134.0" y="284.0" font-size="7.3" fill="#9b9b9b" text-anchor="middle" font-weight="normal" textLength="14.4" lengthAdjust="spacingAndGlyphs" >2410</text>
<text x="153.5" y="284.0" font-size="7.3" fill="#9b9b9b" text-anchor="middle" font-weight="normal" textLength="14.4" lengthAdjust="spacingAndGlyphs" >2387</text>
<text x="172.9" y="284.0" font-size="7.3" fill="#9b9b9b" text-anchor="middle" font-weight="normal" textLength="14.4" lengthAdjust="spacingAndGlyphs" >2354</text>
<text x="192.4" y="284.0" font-size="7.3" fill="#9b9b9b" text-anchor="middle" font-weight="normal" textLength="14.4" lengthAdjust="spacingAndGlyphs" >2335</text>
<text x="211.9" y="284.0" font-size="7.3" fill="#9b9b9b" text-anchor="middle" font-weight="normal" textLength="14.4" lengthAdjust="spacingAndGlyphs" >2303</text>
<text x="231.3" y="284.0" font-size="7.3" fill="#9b9b9b" text-anchor="middle" font-weight="normal" textLength="14.4" lengthAdjust="spacingAndGlyphs" >2282</text>
<text x="250.8" y="284.0" font-size="7.3" fill="#9b9b9b" text-anchor="middle" font-weight="normal" textLength="14.4" lengthAdjust="spacingAndGlyphs" >2254</text>
<text x="270.2" y="284.0" font-size="7.3" fill="#9b9b9b" text-anchor="middle" font-weight="normal" textLength="14.4" lengthAdjust="spacingAndGlyphs" >2224</text>
<text x="289.7" y="284.0" font-size="7.3" fill="#9b9b9b" text-anchor="middle" font-weight="normal" textLength="14.4" lengthAdjust="spacingAndGlyphs" >2193</text>
<text x="309.1" y="284.0" font-size="7.3" fill="#9b9b9b" text-anchor="middle" font-weight="normal" textLength="14.4" lengthAdjust="spacingAndGlyphs" >2160</text>
<text x="328.6" y="284.0" font-size="7.3" fill="#9b9b9b" text-anchor="middle" font-weight="normal" textLength="14.4" lengthAdjust="spacingAndGlyphs" >2111</text>
<text x="348.1" y="284.0" font-size="7.3" fill="#9b9b9b" text-anchor="middle" font-weight="normal" textLength="14.4" lengthAdjust="spacingAndGlyphs" >2063</text>
<text x="367.5" y="284.0" font-size="7.3" fill="#9b9b9b" text-anchor="middle" font-weight="normal" textLength="14.4" lengthAdjust="spacingAndGlyphs" >1973</text>
<text x="387.0" y="284.0" font-size="7.3" fill="#9b9b9b" text-anchor="middle" font-weight="normal" textLength="14.4" lengthAdjust="spacingAndGlyphs" >1834</text>
<text x="406.4" y="284.0" font-size="7.3" fill="#9b9b9b" text-anchor="middle" font-weight="normal" textLength="14.4" lengthAdjust="spacingAndGlyphs" >1613</text>
<text x="425.9" y="284.0" font-size="7.3" fill="#9b9b9b" text-anchor="middle" font-weight="normal" textLength="14.4" lengthAdjust="spacingAndGlyphs" >1333</text>
<text x="445.3" y="284.0" font-size="7.3" fill="#9b9b9b" text-anchor="middle" font-weight="normal" textLength="10.8" lengthAdjust="spacingAndGlyphs" >943</text>
<text x="464.8" y="284.0" font-size="7.3" fill="#9b9b9b" text-anchor="middle" font-weight="normal" textLength="10.8" lengthAdjust="spacingAndGlyphs" >400</text>
<text x="484.3" y="284.0" font-size="7.3" fill="#9b9b9b" text-anchor="middle" font-weight="normal" textLength="7.2" lengthAdjust="spacingAndGlyphs" >53</text>
<text x="503.7" y="284.0" font-size="7.3" fill="#9b9b9b" text-anchor="middle" font-weight="normal" textLength="3.6" lengthAdjust="spacingAndGlyphs" >3</text>
<line x1="35.2" y1="291.3" x2="45" y2="291.3" stroke="#3a3a3a" stroke-width="1.5"/>
<text x="56.2" y="293.9" font-size="7.3" fill="#3a3a3a" text-anchor="middle" font-weight="normal" textLength="14.4" lengthAdjust="spacingAndGlyphs" >9230</text>
<text x="75.7" y="293.9" font-size="7.3" fill="#3a3a3a" text-anchor="middle" font-weight="normal" textLength="14.4" lengthAdjust="spacingAndGlyphs" >9188</text>
<text x="95.1" y="293.9" font-size="7.3" fill="#3a3a3a" text-anchor="middle" font-weight="normal" textLength="14.4" lengthAdjust="spacingAndGlyphs" >9130</text>
<text x="114.6" y="293.9" font-size="7.3" fill="#3a3a3a" text-anchor="middle" font-weight="normal" textLength="14.4" lengthAdjust="spacingAndGlyphs" >9087</text>
<text x="134.0" y="293.9" font-size="7.3" fill="#3a3a3a" text-anchor="middle" font-weight="normal" textLength="14.4" lengthAdjust="spacingAndGlyphs" >9034</text>
<text x="153.5" y="293.9" font-size="7.3" fill="#3a3a3a" text-anchor="middle" font-weight="normal" textLength="14.4" lengthAdjust="spacingAndGlyphs" >8962</text>
<text x="172.9" y="293.9" font-size="7.3" fill="#3a3a3a" text-anchor="middle" font-weight="normal" textLength="14.4" lengthAdjust="spacingAndGlyphs" >8883</text>
<text x="192.4" y="293.9" font-size="7.3" fill="#3a3a3a" text-anchor="middle" font-weight="normal" textLength="14.4" lengthAdjust="spacingAndGlyphs" >8811</text>
<text x="211.9" y="293.9" font-size="7.3" fill="#3a3a3a" text-anchor="middle" font-weight="normal" textLength="14.4" lengthAdjust="spacingAndGlyphs" >8722</text>
<text x="231.3" y="293.9" font-size="7.3" fill="#3a3a3a" text-anchor="middle" font-weight="normal" textLength="14.4" lengthAdjust="spacingAndGlyphs" >8630</text>
<text x="250.8" y="293.9" font-size="7.3" fill="#3a3a3a" text-anchor="middle" font-weight="normal" textLength="14.4" lengthAdjust="spacingAndGlyphs" >8556</text>
<text x="270.2" y="293.9" font-size="7.3" fill="#3a3a3a" text-anchor="middle" font-weight="normal" textLength="14.4" lengthAdjust="spacingAndGlyphs" >8457</text>
<text x="289.7" y="293.9" font-size="7.3" fill="#3a3a3a" text-anchor="middle" font-weight="normal" textLength="14.4" lengthAdjust="spacingAndGlyphs" >8340</text>
<text x="309.1" y="293.9" font-size="7.3" fill="#3a3a3a" text-anchor="middle" font-weight="normal" textLength="14.4" lengthAdjust="spacingAndGlyphs" >8199</text>
<text x="328.6" y="293.9" font-size="7.3" fill="#3a3a3a" text-anchor="middle" font-weight="normal" textLength="14.4" lengthAdjust="spacingAndGlyphs" >8044</text>
<text x="348.1" y="293.9" font-size="7.3" fill="#3a3a3a" text-anchor="middle" font-weight="normal" textLength="14.4" lengthAdjust="spacingAndGlyphs" >7809</text>
<text x="367.5" y="293.9" font-size="7.3" fill="#3a3a3a" text-anchor="middle" font-weight="normal" textLength="14.4" lengthAdjust="spacingAndGlyphs" >7424</text>
<text x="387.0" y="293.9" font-size="7.3" fill="#3a3a3a" text-anchor="middle" font-weight="normal" textLength="14.4" lengthAdjust="spacingAndGlyphs" >6775</text>
<text x="406.4" y="293.9" font-size="7.3" fill="#3a3a3a" text-anchor="middle" font-weight="normal" textLength="14.4" lengthAdjust="spacingAndGlyphs" >5747</text>
<text x="425.9" y="293.9" font-size="7.3" fill="#3a3a3a" text-anchor="middle" font-weight="normal" textLength="14.4" lengthAdjust="spacingAndGlyphs" >4366</text>
<text x="445.3" y="293.9" font-size="7.3" fill="#3a3a3a" text-anchor="middle" font-weight="normal" textLength="14.4" lengthAdjust="spacingAndGlyphs" >2821</text>
<text x="464.8" y="293.9" font-size="7.3" fill="#3a3a3a" text-anchor="middle" font-weight="normal" textLength="10.8" lengthAdjust="spacingAndGlyphs" >986</text>
<text x="484.3" y="293.9" font-size="7.3" fill="#3a3a3a" text-anchor="middle" font-weight="normal" textLength="10.8" lengthAdjust="spacingAndGlyphs" >111</text>
<text x="503.7" y="293.9" font-size="7.3" fill="#3a3a3a" text-anchor="middle" font-weight="normal" textLength="7.2" lengthAdjust="spacingAndGlyphs" >16</text>
<text x="7.7" y="331.2" font-size="11" fill="#000" text-anchor="start" font-weight="bold" textLength="7.3" lengthAdjust="spacingAndGlyphs" >B</text>
<text x="220" y="330.4" font-size="9.7" fill="#111" text-anchor="start" font-weight="bold" textLength="80.9" lengthAdjust="spacingAndGlyphs" >Breakthrough HRs</text>
<rect x="8.5" y="340" width="288.2" height="33" fill="#13507f"/>
<rect x="8.5" y="373" width="288.2" height="26.2" fill="#dce6ee"/>
<rect x="8.5" y="399.2" width="288.2" height="26.4" fill="#b8cbdb"/>
<text x="17.5" y="359.6" font-size="10.1" fill="#fff" text-anchor="start" font-weight="bold" textLength="33.7" lengthAdjust="spacingAndGlyphs" >Disease</text>
<text x="111.5" y="354.2" font-size="10.1" fill="#fff" text-anchor="start" font-weight="bold" textLength="95.2" lengthAdjust="spacingAndGlyphs" >No. of breakthrough/</text>
<text x="125.8" y="365.8" font-size="10.1" fill="#fff" text-anchor="start" font-weight="bold" textLength="67.7" lengthAdjust="spacingAndGlyphs" >No. of patients</text>
<text x="223.8" y="359.6" font-size="10.1" fill="#fff" text-anchor="start" font-weight="bold" textLength="13.5" lengthAdjust="spacingAndGlyphs" >HR</text>
<text x="254.6" y="359.6" font-size="10.1" fill="#fff" text-anchor="start" font-weight="bold" textLength="32.7" lengthAdjust="spacingAndGlyphs" >p value</text>
<text x="17.5" y="389.2" font-size="9.8" fill="#1a1a1a" text-anchor="start" font-weight="normal" textLength="76.2" lengthAdjust="spacingAndGlyphs" stroke="#1a1a1a" stroke-width="0.12" >Multiple myeloma</text>
<text x="139.3" y="389.2" font-size="9.8" fill="#1a1a1a" text-anchor="start" font-weight="normal" textLength="40.0" lengthAdjust="spacingAndGlyphs" stroke="#1a1a1a" stroke-width="0.12" >101/2470</text>
<text x="224.3" y="389.2" font-size="9.8" fill="#1a1a1a" text-anchor="start" font-weight="normal" textLength="12.9" lengthAdjust="spacingAndGlyphs" stroke="#1a1a1a" stroke-width="0.12" >3.8</text>
<text x="255.8" y="389.2" font-size="9.8" fill="#1a1a1a" text-anchor="start" font-weight="normal" textLength="29.2" lengthAdjust="spacingAndGlyphs" stroke="#1a1a1a" stroke-width="0.12" >&lt;0.001</text>
<text x="17.5" y="415.7" font-size="9.8" fill="#1a1a1a" text-anchor="start" font-weight="normal" textLength="27.6" lengthAdjust="spacingAndGlyphs" stroke="#1a1a1a" stroke-width="0.12" >MGUS</text>
<text x="139.2" y="415.7" font-size="9.8" fill="#1a1a1a" text-anchor="start" font-weight="normal" textLength="40.5" lengthAdjust="spacingAndGlyphs" stroke="#1a1a1a" stroke-width="0.12" >200/9230</text>
<text x="224.3" y="415.7" font-size="9.8" fill="#1a1a1a" text-anchor="start" font-weight="normal" textLength="12.9" lengthAdjust="spacingAndGlyphs" stroke="#1a1a1a" stroke-width="0.12" >1.9</text>
<text x="255.8" y="415.7" font-size="9.8" fill="#1a1a1a" text-anchor="start" font-weight="normal" textLength="29.2" lengthAdjust="spacingAndGlyphs" stroke="#1a1a1a" stroke-width="0.12" >&lt;0.001</text>
<text x="203.8" y="475.4" font-size="9.7" fill="#111" text-anchor="start" font-weight="bold" textLength="113.0" lengthAdjust="spacingAndGlyphs" >Severe breakthrough HRs</text>
<rect x="8.5" y="485" width="288.2" height="33" fill="#13507f"/>
<rect x="8.5" y="518" width="288.2" height="26.2" fill="#dce6ee"/>
<rect x="8.5" y="544.2" width="288.2" height="26.4" fill="#b8cbdb"/>
<text x="17.5" y="504.6" font-size="10.1" fill="#fff" text-anchor="start" font-weight="bold" textLength="33.7" lengthAdjust="spacingAndGlyphs" >Disease</text>
<text x="110.8" y="499.2" font-size="10.1" fill="#fff" text-anchor="start" font-weight="bold" textLength="97.7" lengthAdjust="spacingAndGlyphs" >No. of severe COVID/</text>
<text x="125.8" y="510.8" font-size="10.1" fill="#fff" text-anchor="start" font-weight="bold" textLength="67.7" lengthAdjust="spacingAndGlyphs" >No. of patients</text>
<text x="223.8" y="504.6" font-size="10.1" fill="#fff" text-anchor="start" font-weight="bold" textLength="13.5" lengthAdjust="spacingAndGlyphs" >HR</text>
<text x="254.6" y="504.6" font-size="10.1" fill="#fff" text-anchor="start" font-weight="bold" textLength="32.7" lengthAdjust="spacingAndGlyphs" >p value</text>
<text x="17.5" y="534.2" font-size="9.8" fill="#1a1a1a" text-anchor="start" font-weight="normal" textLength="76.2" lengthAdjust="spacingAndGlyphs" stroke="#1a1a1a" stroke-width="0.12" >Multiple myeloma</text>
<text x="141.2" y="534.2" font-size="9.8" fill="#1a1a1a" text-anchor="start" font-weight="normal" textLength="35.7" lengthAdjust="spacingAndGlyphs" stroke="#1a1a1a" stroke-width="0.12" >42/2470</text>
<text x="224.3" y="534.2" font-size="9.8" fill="#1a1a1a" text-anchor="start" font-weight="normal" textLength="12.9" lengthAdjust="spacingAndGlyphs" stroke="#1a1a1a" stroke-width="0.12" >7.1</text>
<text x="255.8" y="534.2" font-size="9.8" fill="#1a1a1a" text-anchor="start" font-weight="normal" textLength="29.2" lengthAdjust="spacingAndGlyphs" stroke="#1a1a1a" stroke-width="0.12" >&lt;0.001</text>
<text x="17.5" y="560.7" font-size="9.8" fill="#1a1a1a" text-anchor="start" font-weight="normal" textLength="27.6" lengthAdjust="spacingAndGlyphs" stroke="#1a1a1a" stroke-width="0.12" >MGUS</text>
<text x="141.2" y="560.7" font-size="9.8" fill="#1a1a1a" text-anchor="start" font-weight="normal" textLength="35.7" lengthAdjust="spacingAndGlyphs" stroke="#1a1a1a" stroke-width="0.12" >67/9230</text>
<text x="224.3" y="560.7" font-size="9.8" fill="#1a1a1a" text-anchor="start" font-weight="normal" textLength="12.9" lengthAdjust="spacingAndGlyphs" stroke="#1a1a1a" stroke-width="0.12" >2.1</text>
<text x="255.8" y="560.7" font-size="9.8" fill="#1a1a1a" text-anchor="start" font-weight="normal" textLength="29.2" lengthAdjust="spacingAndGlyphs" stroke="#1a1a1a" stroke-width="0.12" >&lt;0.001</text>
<line x1="334.2" y1="356.7" x2="334.2" y2="425.7" stroke="#2b2b2b" stroke-width="1.3"/>
<line x1="304.8" y1="425.7" x2="512.3" y2="425.7" stroke="#2b2b2b" stroke-width="1.4"/>
<line x1="309.5" y1="425.7" x2="309.5" y2="428.7" stroke="#2b2b2b" stroke-width="1"/>
<text x="309.5" y="438.4" font-size="8.5" fill="#2a2a2a" text-anchor="middle" font-weight="normal" textLength="4.3" lengthAdjust="spacingAndGlyphs" >0</text>
<line x1="333.9" y1="425.7" x2="333.9" y2="428.7" stroke="#2b2b2b" stroke-width="1"/>
<text x="333.9" y="438.4" font-size="8.5" fill="#2a2a2a" text-anchor="middle" font-weight="normal" textLength="4.3" lengthAdjust="spacingAndGlyphs" >1</text>
<line x1="358.2" y1="425.7" x2="358.2" y2="428.7" stroke="#2b2b2b" stroke-width="1"/>
<text x="358.2" y="438.4" font-size="8.5" fill="#2a2a2a" text-anchor="middle" font-weight="normal" textLength="4.3" lengthAdjust="spacingAndGlyphs" >2</text>
<line x1="382.6" y1="425.7" x2="382.6" y2="428.7" stroke="#2b2b2b" stroke-width="1"/>
<text x="382.6" y="438.4" font-size="8.5" fill="#2a2a2a" text-anchor="middle" font-weight="normal" textLength="4.3" lengthAdjust="spacingAndGlyphs" >3</text>
<line x1="407.0" y1="425.7" x2="407.0" y2="428.7" stroke="#2b2b2b" stroke-width="1"/>
<text x="407.0" y="438.4" font-size="8.5" fill="#2a2a2a" text-anchor="middle" font-weight="normal" textLength="4.3" lengthAdjust="spacingAndGlyphs" >4</text>
<line x1="431.4" y1="425.7" x2="431.4" y2="428.7" stroke="#2b2b2b" stroke-width="1"/>
<text x="431.4" y="438.4" font-size="8.5" fill="#2a2a2a" text-anchor="middle" font-weight="normal" textLength="4.3" lengthAdjust="spacingAndGlyphs" >5</text>
<line x1="455.7" y1="425.7" x2="455.7" y2="428.7" stroke="#2b2b2b" stroke-width="1"/>
<text x="455.7" y="438.4" font-size="8.5" fill="#2a2a2a" text-anchor="middle" font-weight="normal" textLength="4.3" lengthAdjust="spacingAndGlyphs" >6</text>
<line x1="480.1" y1="425.7" x2="480.1" y2="428.7" stroke="#2b2b2b" stroke-width="1"/>
<text x="480.1" y="438.4" font-size="8.5" fill="#2a2a2a" text-anchor="middle" font-weight="normal" textLength="4.3" lengthAdjust="spacingAndGlyphs" >7</text>
<line x1="504.5" y1="425.7" x2="504.5" y2="428.7" stroke="#2b2b2b" stroke-width="1"/>
<text x="504.5" y="438.4" font-size="8.5" fill="#2a2a2a" text-anchor="middle" font-weight="normal" textLength="4.3" lengthAdjust="spacingAndGlyphs" >8</text>
<text x="388.0" y="451.2" font-size="9.3" fill="#222" text-anchor="start" font-weight="normal" textLength="39.6" lengthAdjust="spacingAndGlyphs" stroke="#222" stroke-width="0.1" >Hazard ratio</text>
<line x1="370.6" y1="386.1" x2="451.9" y2="386.1" stroke="#555" stroke-width="1.3"/>
<circle cx="402.9" cy="386.1" r="2" fill="#1b4f7e"/>
<line x1="345.8" y1="412.5" x2="367.9" y2="412.5" stroke="#555" stroke-width="1.3"/>
<rect x="352.9" y="409.9" width="5.2" height="5.2" fill="#1b4f7e"/>
<line x1="334.2" y1="501.7" x2="334.2" y2="570.7" stroke="#2b2b2b" stroke-width="1.3"/>
<line x1="304.8" y1="570.7" x2="512.3" y2="570.7" stroke="#2b2b2b" stroke-width="1.4"/>
<line x1="309.5" y1="570.7" x2="309.5" y2="573.7" stroke="#2b2b2b" stroke-width="1"/>
<text x="309.5" y="583.4" font-size="8.5" fill="#2a2a2a" text-anchor="middle" font-weight="normal" textLength="4.3" lengthAdjust="spacingAndGlyphs" >0</text>
<line x1="334.2" y1="570.7" x2="334.2" y2="573.7" stroke="#2b2b2b" stroke-width="1"/>
<text x="334.2" y="583.4" font-size="8.5" fill="#2a2a2a" text-anchor="middle" font-weight="normal" textLength="4.3" lengthAdjust="spacingAndGlyphs" >1</text>
<line x1="358.8" y1="570.7" x2="358.8" y2="573.7" stroke="#2b2b2b" stroke-width="1"/>
<text x="358.8" y="583.4" font-size="8.5" fill="#2a2a2a" text-anchor="middle" font-weight="normal" textLength="4.3" lengthAdjust="spacingAndGlyphs" >2</text>
<line x1="383.5" y1="570.7" x2="383.5" y2="573.7" stroke="#2b2b2b" stroke-width="1"/>
<text x="383.5" y="583.4" font-size="8.5" fill="#2a2a2a" text-anchor="middle" font-weight="normal" textLength="4.3" lengthAdjust="spacingAndGlyphs" >3</text>
<line x1="408.1" y1="570.7" x2="408.1" y2="573.7" stroke="#2b2b2b" stroke-width="1"/>
<text x="408.1" y="583.4" font-size="8.5" fill="#2a2a2a" text-anchor="middle" font-weight="normal" textLength="4.3" lengthAdjust="spacingAndGlyphs" >4</text>
<line x1="432.8" y1="570.7" x2="432.8" y2="573.7" stroke="#2b2b2b" stroke-width="1"/>
<text x="432.8" y="583.4" font-size="8.5" fill="#2a2a2a" text-anchor="middle" font-weight="normal" textLength="4.3" lengthAdjust="spacingAndGlyphs" >5</text>
<line x1="457.5" y1="570.7" x2="457.5" y2="573.7" stroke="#2b2b2b" stroke-width="1"/>
<text x="457.5" y="583.4" font-size="8.5" fill="#2a2a2a" text-anchor="middle" font-weight="normal" textLength="4.3" lengthAdjust="spacingAndGlyphs" >6</text>
<line x1="482.1" y1="570.7" x2="482.1" y2="573.7" stroke="#2b2b2b" stroke-width="1"/>
<text x="482.1" y="583.4" font-size="8.5" fill="#2a2a2a" text-anchor="middle" font-weight="normal" textLength="4.3" lengthAdjust="spacingAndGlyphs" >7</text>
<line x1="506.8" y1="570.7" x2="506.8" y2="573.7" stroke="#2b2b2b" stroke-width="1"/>
<text x="506.8" y="583.4" font-size="8.5" fill="#2a2a2a" text-anchor="middle" font-weight="normal" textLength="4.3" lengthAdjust="spacingAndGlyphs" >8</text>
<text x="388.0" y="596.2" font-size="9.3" fill="#222" text-anchor="start" font-weight="normal" textLength="39.6" lengthAdjust="spacingAndGlyphs" stroke="#222" stroke-width="0.1" >Hazard ratio</text>
<line x1="383.7" y1="531.1" x2="505.5" y2="531.1" stroke="#555" stroke-width="1.3"/>
<polygon points="501.3,528.7 506.5,531.1 501.3,533.5" fill="#111"/>
<circle cx="483.8" cy="531.1" r="2" fill="#1b4f7e"/>
<line x1="343.5" y1="557.3" x2="388.8" y2="557.3" stroke="#555" stroke-width="1.3"/>
<rect x="359.0" y="554.6999999999999" width="5.2" height="5.2" fill="#1b4f7e"/>
</svg>
</body></html>
